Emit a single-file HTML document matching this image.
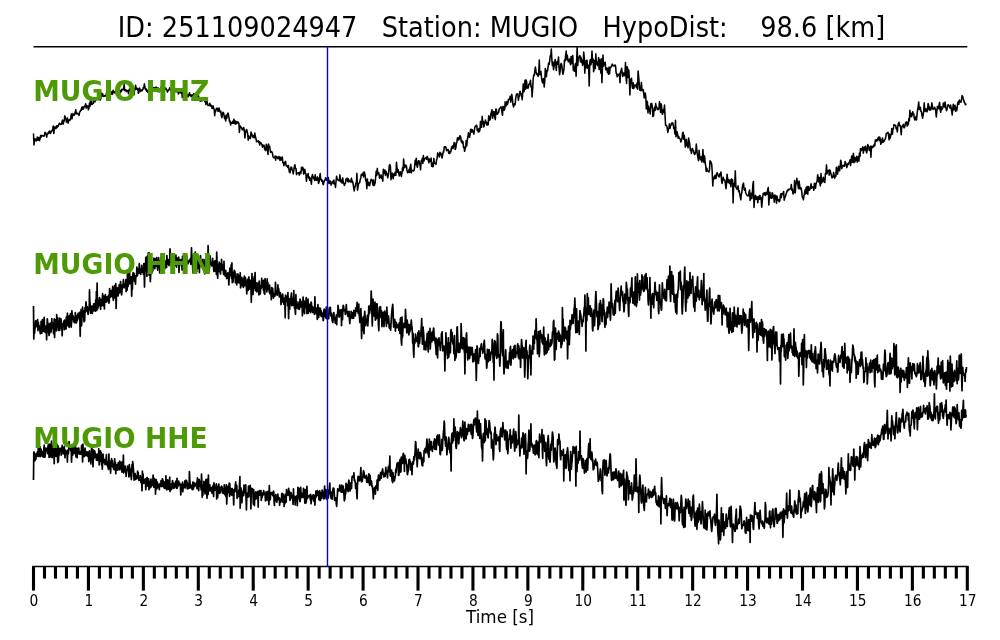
<!DOCTYPE html>
<html><head><meta charset="utf-8"><title>Seismogram</title>
<style>
html,body{margin:0;padding:0;background:#fff;}
body{width:1000px;height:640px;overflow:hidden;}
svg{display:block;will-change:transform;}
text{font-family:"DejaVu Sans","Liberation Sans",sans-serif;fill:#000;}
.lab{font-weight:bold;font-size:28.2px;fill:#4e9a06;}
.tr{fill:none;stroke:#000;stroke-width:1.55;stroke-linejoin:round;stroke-linecap:butt;}
</style></head><body>
<svg width="1000" height="640" viewBox="0 0 1000 640">
<rect width="1000" height="640" fill="#fff"/>
<text x="117.8" y="37.3" font-size="28" textLength="767.4" lengthAdjust="spacingAndGlyphs" xml:space="preserve" style="white-space:pre">ID: 251109024947   Station: MUGIO   HypoDist:    98.6 [km]</text>
<path class="tr" d="M33.5,133.5 L34.0,145.0 L34.6,138.9 L35.1,140.2 L35.7,139.1 L36.2,141.1 L36.8,138.7 L37.3,137.1 L37.9,140.3 L38.4,137.8 L39.0,137.6 L39.5,140.6 L40.1,138.8 L40.6,135.6 L41.2,137.0 L41.7,135.4 L42.3,135.6 L42.8,136.0 L43.4,135.8 L43.9,136.3 L44.5,135.2 L45.0,132.4 L45.6,132.8 L46.1,133.6 L46.7,137.1 L47.2,133.9 L47.8,133.9 L48.3,132.2 L48.9,133.2 L49.4,131.1 L50.0,131.5 L50.5,133.5 L51.1,131.4 L51.6,131.7 L52.2,130.1 L52.7,129.4 L53.3,126.0 L53.8,133.5 L54.4,129.5 L54.9,126.9 L55.5,127.9 L56.0,128.5 L56.6,125.8 L57.1,127.5 L57.7,125.9 L58.2,126.3 L58.8,124.4 L59.3,123.2 L59.9,123.9 L60.4,124.4 L61.0,124.0 L61.5,124.1 L62.1,121.3 L62.6,120.0 L63.2,124.1 L63.7,121.6 L64.3,120.6 L64.8,115.9 L65.4,117.2 L65.9,118.9 L66.4,122.1 L67.0,121.0 L67.5,118.1 L68.1,123.2 L68.6,120.7 L69.2,119.8 L69.7,120.5 L70.3,119.5 L70.8,117.5 L71.4,113.9 L71.9,118.8 L72.5,116.1 L73.0,113.6 L73.6,115.2 L74.1,115.4 L74.7,114.1 L75.2,112.6 L75.8,109.7 L76.3,113.8 L76.9,113.5 L77.4,113.3 L78.0,114.0 L78.5,114.0 L79.1,115.4 L79.6,112.1 L80.2,111.5 L80.7,110.0 L81.3,110.3 L81.8,107.3 L82.4,109.2 L82.9,106.7 L83.5,109.0 L84.0,107.3 L84.6,106.3 L85.1,105.7 L85.7,103.8 L86.2,108.2 L86.8,105.5 L87.3,106.9 L87.9,106.1 L88.4,109.8 L89.0,107.7 L89.5,103.1 L90.1,106.2 L90.6,97.7 L91.2,97.3 L91.7,104.5 L92.3,104.3 L92.8,103.2 L93.4,103.3 L93.9,98.9 L94.5,100.9 L95.0,101.9 L95.6,98.3 L96.1,98.6 L96.7,99.8 L97.2,98.7 L97.8,97.2 L98.3,98.7 L98.8,99.7 L99.4,99.3 L99.9,98.9 L100.5,100.0 L101.0,96.9 L101.6,93.1 L102.1,96.0 L102.7,93.9 L103.2,96.3 L103.8,96.5 L104.3,96.1 L104.9,95.6 L105.4,96.0 L106.0,95.9 L106.5,92.5 L107.1,92.6 L107.6,94.7 L108.2,93.1 L108.7,93.3 L109.3,92.5 L109.8,97.4 L110.4,92.4 L110.9,93.8 L111.5,91.7 L112.0,94.4 L112.6,94.1 L113.1,90.3 L113.7,92.1 L114.2,91.9 L114.8,93.0 L115.3,91.8 L115.9,93.0 L116.4,91.6 L117.0,90.3 L117.5,92.1 L118.1,93.1 L118.6,93.5 L119.2,93.2 L119.7,91.1 L120.3,92.6 L120.8,90.4 L121.4,91.5 L121.9,89.2 L122.5,89.4 L123.0,89.8 L123.6,88.7 L124.1,84.3 L124.7,90.6 L125.2,90.0 L125.8,89.7 L126.3,91.6 L126.9,90.5 L127.4,90.6 L128.0,91.3 L128.5,93.5 L129.1,89.7 L129.6,88.9 L130.1,89.9 L130.7,92.2 L131.2,90.1 L131.8,92.5 L132.3,89.1 L132.9,89.0 L133.4,90.2 L134.0,94.7 L134.5,90.9 L135.1,88.8 L135.6,85.2 L136.2,89.3 L136.7,88.1 L137.3,89.4 L137.8,88.5 L138.4,93.3 L138.9,92.3 L139.5,88.1 L140.0,89.2 L140.6,91.4 L141.1,90.9 L141.7,89.9 L142.2,90.6 L142.8,89.6 L143.3,87.5 L143.9,87.9 L144.4,83.8 L145.0,87.6 L145.5,89.5 L146.1,88.8 L146.6,91.2 L147.2,91.2 L147.7,92.3 L148.3,89.5 L148.8,93.9 L149.4,90.7 L149.9,88.2 L150.5,86.1 L151.0,87.7 L151.6,86.9 L152.1,85.9 L152.7,88.1 L153.2,88.4 L153.8,87.6 L154.3,88.8 L154.9,88.0 L155.4,87.5 L156.0,87.0 L156.5,87.6 L157.1,88.7 L157.6,91.6 L158.2,87.9 L158.7,90.9 L159.3,91.8 L159.8,90.9 L160.4,90.0 L160.9,88.8 L161.5,86.3 L162.0,91.5 L162.5,91.6 L163.1,89.6 L163.6,87.6 L164.2,87.8 L164.7,88.0 L165.3,89.1 L165.8,88.1 L166.4,89.7 L166.9,89.9 L167.5,92.1 L168.0,90.6 L168.6,90.3 L169.1,89.3 L169.7,87.7 L170.2,88.9 L170.8,90.3 L171.3,90.6 L171.9,88.0 L172.4,91.5 L173.0,90.6 L173.5,92.4 L174.1,92.7 L174.6,89.5 L175.2,91.7 L175.7,91.0 L176.3,91.8 L176.8,89.9 L177.4,90.0 L177.9,92.0 L178.5,94.0 L179.0,92.4 L179.6,91.0 L180.1,90.8 L180.7,92.7 L181.2,93.2 L181.8,91.5 L182.3,97.6 L182.9,93.8 L183.4,90.0 L184.0,92.2 L184.5,92.5 L185.1,94.4 L185.6,93.0 L186.2,93.0 L186.7,94.3 L187.3,94.8 L187.8,96.7 L188.4,96.6 L188.9,94.6 L189.5,92.8 L190.0,95.3 L190.6,94.7 L191.1,96.5 L191.7,96.5 L192.2,94.8 L192.8,97.4 L193.3,99.2 L193.9,93.6 L194.4,94.3 L194.9,94.2 L195.5,94.1 L196.0,97.6 L196.6,98.2 L197.1,93.3 L197.7,99.6 L198.2,94.9 L198.8,97.1 L199.3,100.5 L199.9,99.5 L200.4,101.2 L201.0,100.2 L201.5,99.2 L202.1,101.0 L202.6,98.9 L203.2,99.3 L203.7,99.0 L204.3,98.4 L204.8,101.8 L205.4,100.3 L205.9,104.6 L206.5,102.4 L207.0,101.5 L207.6,104.2 L208.1,105.6 L208.7,105.3 L209.2,104.6 L209.8,103.3 L210.3,106.1 L210.9,105.2 L211.4,105.2 L212.0,108.3 L212.5,108.4 L213.1,105.9 L213.6,108.1 L214.2,109.5 L214.7,115.7 L215.3,110.6 L215.8,111.0 L216.4,108.5 L216.9,108.7 L217.5,108.2 L218.0,111.5 L218.6,111.0 L219.1,108.1 L219.7,111.1 L220.2,112.2 L220.8,111.1 L221.3,115.2 L221.9,117.6 L222.4,114.3 L223.0,112.3 L223.5,112.7 L224.1,115.6 L224.6,118.6 L225.2,116.4 L225.7,120.9 L226.3,115.0 L226.8,118.2 L227.3,115.1 L227.9,113.0 L228.4,114.6 L229.0,117.9 L229.5,121.6 L230.1,121.1 L230.6,125.0 L231.2,122.7 L231.7,122.6 L232.3,123.2 L232.8,121.2 L233.4,123.2 L233.9,119.2 L234.5,123.5 L235.0,120.7 L235.6,124.0 L236.1,121.6 L236.7,123.5 L237.2,122.7 L237.8,121.7 L238.3,123.0 L238.9,123.3 L239.4,132.4 L240.0,125.7 L240.5,126.5 L241.1,127.8 L241.6,127.4 L242.2,129.7 L242.7,129.0 L243.3,129.9 L243.8,127.6 L244.4,131.3 L244.9,137.9 L245.5,132.7 L246.0,131.0 L246.6,129.5 L247.1,131.2 L247.7,133.9 L248.2,140.1 L248.8,135.9 L249.3,138.2 L249.9,137.6 L250.4,138.5 L251.0,132.1 L251.5,133.7 L252.1,134.8 L252.6,137.0 L253.2,135.6 L253.7,137.5 L254.3,137.7 L254.8,133.1 L255.4,136.8 L255.9,138.2 L256.5,141.7 L257.0,141.5 L257.6,141.4 L258.1,140.7 L258.7,142.5 L259.2,141.4 L259.7,145.0 L260.3,142.4 L260.8,142.9 L261.4,143.5 L261.9,144.5 L262.5,147.2 L263.0,145.0 L263.6,146.0 L264.1,145.4 L264.7,149.7 L265.2,148.0 L265.8,150.6 L266.3,144.3 L266.9,146.2 L267.4,148.4 L268.0,154.5 L268.5,144.0 L269.1,147.5 L269.6,146.2 L270.2,150.2 L270.7,152.3 L271.3,151.6 L271.8,151.7 L272.4,153.1 L272.9,156.2 L273.5,157.6 L274.0,157.5 L274.6,158.0 L275.1,156.1 L275.7,160.2 L276.2,156.3 L276.8,157.5 L277.3,157.1 L277.9,158.6 L278.4,158.6 L279.0,156.4 L279.5,158.5 L280.1,160.4 L280.6,157.3 L281.2,159.1 L281.7,160.0 L282.3,157.0 L282.8,162.8 L283.4,162.2 L283.9,165.7 L284.5,162.2 L285.0,163.8 L285.6,161.4 L286.1,165.7 L286.7,166.1 L287.2,165.7 L287.8,167.4 L288.3,165.5 L288.9,168.9 L289.4,172.2 L290.0,172.8 L290.5,169.3 L291.0,167.1 L291.6,167.5 L292.1,170.0 L292.7,170.6 L293.2,174.0 L293.8,170.1 L294.3,166.9 L294.9,164.7 L295.4,168.4 L296.0,168.4 L296.5,174.6 L297.1,173.4 L297.6,173.1 L298.2,172.9 L298.7,172.5 L299.3,175.1 L299.8,172.8 L300.4,171.7 L300.9,173.5 L301.5,167.3 L302.0,169.8 L302.6,167.3 L303.1,168.2 L303.7,174.1 L304.2,172.5 L304.8,169.3 L305.3,173.2 L305.9,173.6 L306.4,181.3 L307.0,176.0 L307.5,175.1 L308.1,173.5 L308.6,178.0 L309.2,177.0 L309.7,180.3 L310.3,178.1 L310.8,180.5 L311.4,184.2 L311.9,176.7 L312.5,174.6 L313.0,177.5 L313.6,178.8 L314.1,177.1 L314.7,180.4 L315.2,174.8 L315.8,179.7 L316.3,180.3 L316.9,179.9 L317.4,176.9 L318.0,178.6 L318.5,183.5 L319.1,182.0 L319.6,177.1 L320.2,173.6 L320.7,179.6 L321.3,179.4 L321.8,181.2 L322.4,180.3 L322.9,184.1 L323.4,184.7 L324.0,181.6 L324.5,180.4 L325.1,180.2 L325.6,177.9 L326.2,178.2 L326.7,180.1 L327.3,178.6 L327.8,180.0 L328.4,177.6 L328.9,183.5 L329.5,183.1 L330.0,181.1 L330.6,181.1 L331.1,185.1 L331.7,183.2 L332.2,182.6 L332.8,181.3 L333.3,183.4 L333.9,180.0 L334.4,184.1 L335.0,184.2 L335.5,187.5 L336.1,180.8 L336.6,176.2 L337.2,179.5 L337.7,179.4 L338.3,180.5 L338.8,180.2 L339.4,180.9 L339.9,174.9 L340.5,181.0 L341.0,182.0 L341.6,179.9 L342.1,183.1 L342.7,177.9 L343.2,181.9 L343.8,183.4 L344.3,185.4 L344.9,183.8 L345.4,183.5 L346.0,179.1 L346.5,179.2 L347.1,178.1 L347.6,181.4 L348.2,178.8 L348.7,182.0 L349.3,180.3 L349.8,181.1 L350.4,181.9 L350.9,180.5 L351.5,178.3 L352.0,182.4 L352.6,181.3 L353.1,183.6 L353.7,187.9 L354.2,191.0 L354.8,187.2 L355.3,186.5 L355.8,183.2 L356.4,182.7 L356.9,173.4 L357.5,190.1 L358.0,187.1 L358.6,183.6 L359.1,183.2 L359.7,182.6 L360.2,179.7 L360.8,177.9 L361.3,174.3 L361.9,174.9 L362.4,175.3 L363.0,173.0 L363.5,177.0 L364.1,171.8 L364.6,172.9 L365.2,175.8 L365.7,180.8 L366.3,179.5 L366.8,188.6 L367.4,179.0 L367.9,185.5 L368.5,182.4 L369.0,182.8 L369.6,185.7 L370.1,183.3 L370.7,180.9 L371.2,179.2 L371.8,180.4 L372.3,180.1 L372.9,185.0 L373.4,180.0 L374.0,185.6 L374.5,184.8 L375.1,182.9 L375.6,177.7 L376.2,171.2 L376.7,175.5 L377.3,168.4 L377.8,174.0 L378.4,173.2 L378.9,172.9 L379.5,178.2 L380.0,176.2 L380.6,177.2 L381.1,174.9 L381.7,178.4 L382.2,177.7 L382.8,181.1 L383.3,169.2 L383.9,172.5 L384.4,173.4 L385.0,170.0 L385.5,175.5 L386.1,171.5 L386.6,173.8 L387.2,173.7 L387.7,177.7 L388.2,175.7 L388.8,171.1 L389.3,165.5 L389.9,164.6 L390.4,166.6 L391.0,179.6 L391.5,175.5 L392.1,173.1 L392.6,176.0 L393.2,178.7 L393.7,174.3 L394.3,173.3 L394.8,175.4 L395.4,172.0 L395.9,175.3 L396.5,162.2 L397.0,168.2 L397.6,172.3 L398.1,169.5 L398.7,172.6 L399.2,176.0 L399.8,174.2 L400.3,171.8 L400.9,174.1 L401.4,176.4 L402.0,172.6 L402.5,167.9 L403.1,170.6 L403.6,159.0 L404.2,166.0 L404.7,167.8 L405.3,165.0 L405.8,165.1 L406.4,165.9 L406.9,169.7 L407.5,172.7 L408.0,172.5 L408.6,172.0 L409.1,169.3 L409.7,172.5 L410.2,166.9 L410.8,164.2 L411.3,172.7 L411.9,170.3 L412.4,170.6 L413.0,170.5 L413.5,170.9 L414.1,170.3 L414.6,166.6 L415.2,160.4 L415.7,164.6 L416.3,158.2 L416.8,165.0 L417.4,167.2 L417.9,163.9 L418.5,160.7 L419.0,160.8 L419.6,163.9 L420.1,165.4 L420.6,169.8 L421.2,160.8 L421.7,161.4 L422.3,158.4 L422.8,163.4 L423.4,155.6 L423.9,161.0 L424.5,159.1 L425.0,158.6 L425.6,158.2 L426.1,157.6 L426.7,159.2 L427.2,156.4 L427.8,157.7 L428.3,160.6 L428.9,162.8 L429.4,159.1 L430.0,161.4 L430.5,161.2 L431.1,158.1 L431.6,166.2 L432.2,163.1 L432.7,166.7 L433.3,166.5 L433.8,158.4 L434.4,163.1 L434.9,163.2 L435.5,163.3 L436.0,164.4 L436.6,159.7 L437.1,158.2 L437.7,152.9 L438.2,154.9 L438.8,154.2 L439.3,157.0 L439.9,152.3 L440.4,154.0 L441.0,153.3 L441.5,156.3 L442.1,157.9 L442.6,155.2 L443.2,151.8 L443.7,152.0 L444.3,146.7 L444.8,147.1 L445.4,146.7 L445.9,147.1 L446.5,150.7 L447.0,149.8 L447.6,149.8 L448.1,149.4 L448.7,153.2 L449.2,151.1 L449.8,153.6 L450.3,151.6 L450.9,151.8 L451.4,147.8 L451.9,146.7 L452.5,146.0 L453.0,148.6 L453.6,145.4 L454.1,142.6 L454.7,142.7 L455.2,149.4 L455.8,147.9 L456.3,144.0 L456.9,141.7 L457.4,138.0 L458.0,137.8 L458.5,139.9 L459.1,139.5 L459.6,136.1 L460.2,135.8 L460.7,137.0 L461.3,142.0 L461.8,140.6 L462.4,143.3 L462.9,141.4 L463.5,147.4 L464.0,146.6 L464.6,151.3 L465.1,148.5 L465.7,147.3 L466.2,140.5 L466.8,145.8 L467.3,139.8 L467.9,137.0 L468.4,132.8 L469.0,135.5 L469.5,137.3 L470.1,134.9 L470.6,129.4 L471.2,129.2 L471.7,132.1 L472.3,129.8 L472.8,131.1 L473.4,132.5 L473.9,134.1 L474.5,129.1 L475.0,126.9 L475.6,126.0 L476.1,125.7 L476.7,125.2 L477.2,130.3 L477.8,129.6 L478.3,132.0 L478.9,128.5 L479.4,131.6 L480.0,129.5 L480.5,121.4 L481.1,126.1 L481.6,127.3 L482.2,116.4 L482.7,123.6 L483.3,121.5 L483.8,126.9 L484.3,125.0 L484.9,122.5 L485.4,120.1 L486.0,121.6 L486.5,123.7 L487.1,125.1 L487.6,122.6 L488.2,124.6 L488.7,115.8 L489.3,117.5 L489.8,120.1 L490.4,118.7 L490.9,113.9 L491.5,111.7 L492.0,109.8 L492.6,118.3 L493.1,115.1 L493.7,111.5 L494.2,111.7 L494.8,117.2 L495.3,119.6 L495.9,109.0 L496.4,109.3 L497.0,114.2 L497.5,114.1 L498.1,112.9 L498.6,112.5 L499.2,109.0 L499.7,108.6 L500.3,107.7 L500.8,107.0 L501.4,107.1 L501.9,112.1 L502.5,115.2 L503.0,106.4 L503.6,107.5 L504.1,110.2 L504.7,109.3 L505.2,101.9 L505.8,106.5 L506.3,105.1 L506.9,101.5 L507.4,104.6 L508.0,102.6 L508.5,99.2 L509.1,99.4 L509.6,99.5 L510.2,96.2 L510.7,102.1 L511.3,98.1 L511.8,94.4 L512.4,98.9 L512.9,104.3 L513.5,106.9 L514.0,105.3 L514.6,103.5 L515.1,104.7 L515.7,98.4 L516.2,95.2 L516.7,94.1 L517.3,93.8 L517.8,93.9 L518.4,100.2 L518.9,96.9 L519.5,96.0 L520.0,91.2 L520.6,93.7 L521.1,93.5 L521.7,96.5 L522.2,99.7 L522.8,91.9 L523.3,83.9 L523.9,91.7 L524.4,89.6 L525.0,80.2 L525.5,89.2 L526.1,79.9 L526.6,81.6 L527.2,88.2 L527.7,88.1 L528.3,87.9 L528.8,84.2 L529.4,84.4 L529.9,83.6 L530.5,80.2 L531.0,86.9 L531.6,86.1 L532.1,97.0 L532.7,87.9 L533.2,78.7 L533.8,74.9 L534.3,75.3 L534.9,70.1 L535.4,67.0 L536.0,71.2 L536.5,74.2 L537.1,73.6 L537.6,75.4 L538.2,76.3 L538.7,73.7 L539.3,60.0 L539.8,74.5 L540.4,72.2 L540.9,71.5 L541.5,77.2 L542.0,80.7 L542.6,82.9 L543.1,79.2 L543.7,78.6 L544.2,87.0 L544.8,80.5 L545.3,68.5 L545.9,74.1 L546.4,76.8 L547.0,70.3 L547.5,71.1 L548.1,66.8 L548.6,63.1 L549.1,64.5 L549.7,61.0 L550.2,55.7 L550.8,56.1 L551.3,49.0 L551.9,60.1 L552.4,65.6 L553.0,62.1 L553.5,69.8 L554.1,66.4 L554.6,62.8 L555.2,59.5 L555.7,63.5 L556.3,70.4 L556.8,63.2 L557.4,61.4 L557.9,64.1 L558.5,57.0 L559.0,67.2 L559.6,74.7 L560.1,71.6 L560.7,64.7 L561.2,63.4 L561.8,65.3 L562.3,69.6 L562.9,74.3 L563.4,72.0 L564.0,68.8 L564.5,60.1 L565.1,61.0 L565.6,55.5 L566.2,51.0 L566.7,59.8 L567.3,55.3 L567.8,60.0 L568.4,61.7 L568.9,60.8 L569.5,59.0 L570.0,62.4 L570.6,64.7 L571.1,56.5 L571.7,63.5 L572.2,59.3 L572.8,55.6 L573.3,70.1 L573.9,67.7 L574.4,71.3 L575.0,65.4 L575.5,63.6 L576.1,76.3 L576.6,62.0 L577.2,47.2 L577.7,65.6 L578.3,58.2 L578.8,57.4 L579.4,56.9 L579.9,55.6 L580.4,61.8 L581.0,57.2 L581.5,62.4 L582.1,60.2 L582.6,65.3 L583.2,63.3 L583.7,52.0 L584.3,57.8 L584.8,73.1 L585.4,61.0 L585.9,68.3 L586.5,60.4 L587.0,60.2 L587.6,68.2 L588.1,64.9 L588.7,67.7 L589.2,86.0 L589.8,62.0 L590.3,59.7 L590.9,64.8 L591.4,61.6 L592.0,51.0 L592.5,62.1 L593.1,58.9 L593.6,71.7 L594.2,68.8 L594.7,60.5 L595.3,68.4 L595.8,53.8 L596.4,63.9 L596.9,61.9 L597.5,65.6 L598.0,65.2 L598.6,57.6 L599.1,69.5 L599.7,59.5 L600.2,64.9 L600.8,73.0 L601.3,58.7 L601.9,82.6 L602.4,69.2 L603.0,55.0 L603.5,66.1 L604.1,62.5 L604.6,64.2 L605.2,62.3 L605.7,69.8 L606.3,68.8 L606.8,67.8 L607.4,72.5 L607.9,68.9 L608.5,74.3 L609.0,67.0 L609.6,73.8 L610.1,67.8 L610.7,67.7 L611.2,66.3 L611.8,65.3 L612.3,64.1 L612.8,65.7 L613.4,65.5 L613.9,66.0 L614.5,65.9 L615.0,64.9 L615.6,66.3 L616.1,72.9 L616.7,73.6 L617.2,76.8 L617.8,74.9 L618.3,75.5 L618.9,74.8 L619.4,73.6 L620.0,82.7 L620.5,72.2 L621.1,70.1 L621.6,68.2 L622.2,72.9 L622.7,76.4 L623.3,75.1 L623.8,72.9 L624.4,73.8 L624.9,75.7 L625.5,62.5 L626.0,77.1 L626.6,83.4 L627.1,66.7 L627.7,68.8 L628.2,77.4 L628.8,70.0 L629.3,78.0 L629.9,95.0 L630.4,79.9 L631.0,79.4 L631.5,78.2 L632.1,86.1 L632.6,88.3 L633.2,82.8 L633.7,88.4 L634.3,86.6 L634.8,85.0 L635.4,85.0 L635.9,85.9 L636.5,87.6 L637.0,83.0 L637.6,89.2 L638.1,71.0 L638.7,77.2 L639.2,83.2 L639.8,90.1 L640.3,87.0 L640.9,90.6 L641.4,82.4 L642.0,90.5 L642.5,90.2 L643.1,89.5 L643.6,92.2 L644.2,97.9 L644.7,95.8 L645.2,93.0 L645.8,96.7 L646.3,109.0 L646.9,101.2 L647.4,102.0 L648.0,113.0 L648.5,106.3 L649.1,109.4 L649.6,109.4 L650.2,114.0 L650.7,103.9 L651.3,107.0 L651.8,103.4 L652.4,107.5 L652.9,116.5 L653.5,116.0 L654.0,110.4 L654.6,107.3 L655.1,110.4 L655.7,103.5 L656.2,107.0 L656.8,107.1 L657.3,109.5 L657.9,109.6 L658.4,109.4 L659.0,107.4 L659.5,101.7 L660.1,107.6 L660.6,112.4 L661.2,103.9 L661.7,107.6 L662.3,114.2 L662.8,113.7 L663.4,109.6 L663.9,112.2 L664.5,105.1 L665.0,114.6 L665.6,125.5 L666.1,125.0 L666.7,125.9 L667.2,127.9 L667.8,132.4 L668.3,129.5 L668.9,128.3 L669.4,123.9 L670.0,128.4 L670.5,126.1 L671.1,125.0 L671.6,123.1 L672.2,123.9 L672.7,122.7 L673.3,125.2 L673.8,128.6 L674.4,128.7 L674.9,133.9 L675.5,120.3 L676.0,136.8 L676.6,133.2 L677.1,131.8 L677.6,134.3 L678.2,138.3 L678.7,136.6 L679.3,138.2 L679.8,138.5 L680.4,139.8 L680.9,142.0 L681.5,139.9 L682.0,138.5 L682.6,133.0 L683.1,132.3 L683.7,139.2 L684.2,135.2 L684.8,140.0 L685.3,147.1 L685.9,143.6 L686.4,139.4 L687.0,145.7 L687.5,145.2 L688.1,147.8 L688.6,138.1 L689.2,141.6 L689.7,143.4 L690.3,150.1 L690.8,149.0 L691.4,153.4 L691.9,151.2 L692.5,148.6 L693.0,150.3 L693.6,150.9 L694.1,153.5 L694.7,154.5 L695.2,153.4 L695.8,151.8 L696.3,144.0 L696.9,150.5 L697.4,154.7 L698.0,158.4 L698.5,160.7 L699.1,150.2 L699.6,156.4 L700.2,158.8 L700.7,159.8 L701.3,156.6 L701.8,162.0 L702.4,158.7 L702.9,149.5 L703.5,159.7 L704.0,162.5 L704.6,155.9 L705.1,162.5 L705.7,165.7 L706.2,171.5 L706.8,168.2 L707.3,170.0 L707.9,171.1 L708.4,171.5 L709.0,172.0 L709.5,169.7 L710.0,160.7 L710.6,161.4 L711.1,162.6 L711.7,164.2 L712.2,171.8 L712.8,185.9 L713.3,177.2 L713.9,179.1 L714.4,177.9 L715.0,175.3 L715.5,178.5 L716.1,178.2 L716.6,173.6 L717.2,172.7 L717.7,174.1 L718.3,175.8 L718.8,176.7 L719.4,176.8 L719.9,173.7 L720.5,174.8 L721.0,172.0 L721.6,180.7 L722.1,183.4 L722.7,180.7 L723.2,177.3 L723.8,179.8 L724.3,179.8 L724.9,180.2 L725.4,183.8 L726.0,188.7 L726.5,183.3 L727.1,174.3 L727.6,179.4 L728.2,182.5 L728.7,179.6 L729.3,183.1 L729.8,183.7 L730.4,180.0 L730.9,186.8 L731.5,178.9 L732.0,183.6 L732.6,179.8 L733.1,203.0 L733.7,183.5 L734.2,186.3 L734.8,183.0 L735.3,170.9 L735.9,187.6 L736.4,187.3 L737.0,189.2 L737.5,189.2 L738.1,185.9 L738.6,191.6 L739.2,190.7 L739.7,193.6 L740.3,197.0 L740.8,199.8 L741.3,194.8 L741.9,192.1 L742.4,186.8 L743.0,184.2 L743.5,183.1 L744.1,189.3 L744.6,190.3 L745.2,188.2 L745.7,193.0 L746.3,194.2 L746.8,195.0 L747.4,195.6 L747.9,195.5 L748.5,195.9 L749.0,192.1 L749.6,190.0 L750.1,200.4 L750.7,196.3 L751.2,193.2 L751.8,198.6 L752.3,194.9 L752.9,184.5 L753.4,181.5 L754.0,207.5 L754.5,200.2 L755.1,196.1 L755.6,195.4 L756.2,199.3 L756.7,198.4 L757.3,196.9 L757.8,202.6 L758.4,197.7 L758.9,196.2 L759.5,199.3 L760.0,195.4 L760.6,199.0 L761.1,197.6 L761.7,207.2 L762.2,201.8 L762.8,196.0 L763.3,193.4 L763.9,194.2 L764.4,192.8 L765.0,194.9 L765.5,195.5 L766.1,192.4 L766.6,194.1 L767.2,194.2 L767.7,189.3 L768.3,187.6 L768.8,205.0 L769.4,196.8 L769.9,192.2 L770.5,197.6 L771.0,198.1 L771.6,198.3 L772.1,192.8 L772.7,193.4 L773.2,197.6 L773.7,195.8 L774.3,202.2 L774.8,195.0 L775.4,195.5 L775.9,197.0 L776.5,203.3 L777.0,196.0 L777.6,199.5 L778.1,200.4 L778.7,199.8 L779.2,201.8 L779.8,200.6 L780.3,196.1 L780.9,193.8 L781.4,197.5 L782.0,193.6 L782.5,194.0 L783.1,193.5 L783.6,191.5 L784.2,200.2 L784.7,198.0 L785.3,196.7 L785.8,195.1 L786.4,192.9 L786.9,192.0 L787.5,190.0 L788.0,190.6 L788.6,189.2 L789.1,189.7 L789.7,189.0 L790.2,189.0 L790.8,188.1 L791.3,184.5 L791.9,190.3 L792.4,189.3 L793.0,194.0 L793.5,191.4 L794.1,192.1 L794.6,180.5 L795.2,193.0 L795.7,185.6 L796.3,182.6 L796.8,178.3 L797.4,182.3 L797.9,184.3 L798.5,188.6 L799.0,181.1 L799.6,185.2 L800.1,188.9 L800.7,187.7 L801.2,188.4 L801.8,191.9 L802.3,197.3 L802.9,197.3 L803.4,199.8 L804.0,195.5 L804.5,193.5 L805.1,189.9 L805.6,193.9 L806.1,187.5 L806.7,193.3 L807.2,186.5 L807.8,194.3 L808.3,186.6 L808.9,188.5 L809.4,190.2 L810.0,189.1 L810.5,186.7 L811.1,183.8 L811.6,188.3 L812.2,186.9 L812.7,187.1 L813.3,187.1 L813.8,190.3 L814.4,183.3 L814.9,183.6 L815.5,188.2 L816.0,184.0 L816.6,182.2 L817.1,181.4 L817.7,174.8 L818.2,177.9 L818.8,182.0 L819.3,177.5 L819.9,183.7 L820.4,185.7 L821.0,173.5 L821.5,183.0 L822.1,179.9 L822.6,181.7 L823.2,177.3 L823.7,178.7 L824.3,182.0 L824.8,182.5 L825.4,173.6 L825.9,174.3 L826.5,164.9 L827.0,173.7 L827.6,170.6 L828.1,170.8 L828.7,170.2 L829.2,175.1 L829.8,169.9 L830.3,171.0 L830.9,173.8 L831.4,175.2 L832.0,177.9 L832.5,177.6 L833.1,176.8 L833.6,172.6 L834.2,175.3 L834.7,178.1 L835.3,175.7 L835.8,176.4 L836.4,167.2 L836.9,170.2 L837.5,174.1 L838.0,170.6 L838.5,166.2 L839.1,167.8 L839.6,170.8 L840.2,166.2 L840.7,160.2 L841.3,163.2 L841.8,168.6 L842.4,165.6 L842.9,165.8 L843.5,165.3 L844.0,166.4 L844.6,166.1 L845.1,161.5 L845.7,163.0 L846.2,164.4 L846.8,167.6 L847.3,165.3 L847.9,163.5 L848.4,164.6 L849.0,162.7 L849.5,161.8 L850.1,159.8 L850.6,165.5 L851.2,160.6 L851.7,156.1 L852.3,162.2 L852.8,158.0 L853.4,153.4 L853.9,162.7 L854.5,157.3 L855.0,161.8 L855.6,158.0 L856.1,160.2 L856.7,156.3 L857.2,162.2 L857.8,157.9 L858.3,156.5 L858.9,161.1 L859.4,153.2 L860.0,156.5 L860.5,148.6 L861.1,150.8 L861.6,148.8 L862.2,149.6 L862.7,146.8 L863.3,153.1 L863.8,149.8 L864.4,147.2 L864.9,150.0 L865.5,146.2 L866.0,150.3 L866.6,152.9 L867.1,150.8 L867.7,144.6 L868.2,145.7 L868.8,147.4 L869.3,150.5 L869.9,148.2 L870.4,146.2 L870.9,157.3 L871.5,146.3 L872.0,147.2 L872.6,147.6 L873.1,146.1 L873.7,146.7 L874.2,144.3 L874.8,145.6 L875.3,140.0 L875.9,141.2 L876.4,139.8 L877.0,141.0 L877.5,139.4 L878.1,137.9 L878.6,137.1 L879.2,140.5 L879.7,137.0 L880.3,139.5 L880.8,144.3 L881.4,143.0 L881.9,140.0 L882.5,138.0 L883.0,142.4 L883.6,140.9 L884.1,141.3 L884.7,139.7 L885.2,139.2 L885.8,136.7 L886.3,133.6 L886.9,132.9 L887.4,132.9 L888.0,132.3 L888.5,134.9 L889.1,139.8 L889.6,134.0 L890.2,138.1 L890.7,135.4 L891.3,134.4 L891.8,128.5 L892.4,134.1 L892.9,129.3 L893.5,128.2 L894.0,124.6 L894.6,124.9 L895.1,125.1 L895.7,125.5 L896.2,129.0 L896.8,127.9 L897.3,132.0 L897.9,125.8 L898.4,123.4 L899.0,122.4 L899.5,125.6 L900.1,125.4 L900.6,126.8 L901.2,134.8 L901.7,127.8 L902.2,126.1 L902.8,126.0 L903.3,124.3 L903.9,127.6 L904.4,127.7 L905.0,125.8 L905.5,123.0 L906.1,122.1 L906.6,121.8 L907.2,126.1 L907.7,122.5 L908.3,124.7 L908.8,118.6 L909.4,120.8 L909.9,110.3 L910.5,116.5 L911.0,113.3 L911.6,116.7 L912.1,115.1 L912.7,111.8 L913.2,113.4 L913.8,114.1 L914.3,118.4 L914.9,120.0 L915.4,119.5 L916.0,116.5 L916.5,120.0 L917.1,113.9 L917.6,109.8 L918.2,107.0 L918.7,102.1 L919.3,109.4 L919.8,109.4 L920.4,107.2 L920.9,111.5 L921.5,111.7 L922.0,115.4 L922.6,118.2 L923.1,115.5 L923.7,111.4 L924.2,102.8 L924.8,110.3 L925.3,111.4 L925.9,108.8 L926.4,109.4 L927.0,111.8 L927.5,109.5 L928.1,103.6 L928.6,105.1 L929.2,110.0 L929.7,107.1 L930.3,110.1 L930.8,109.8 L931.4,107.4 L931.9,102.9 L932.5,107.0 L933.0,109.4 L933.6,108.9 L934.1,108.8 L934.6,107.2 L935.2,108.8 L935.7,110.9 L936.3,116.9 L936.8,111.6 L937.4,106.4 L937.9,108.5 L938.5,108.6 L939.0,105.2 L939.6,102.4 L940.1,109.7 L940.7,112.3 L941.2,106.8 L941.8,109.8 L942.3,108.7 L942.9,107.5 L943.4,103.0 L944.0,103.5 L944.5,107.0 L945.1,102.1 L945.6,107.2 L946.2,109.4 L946.7,110.6 L947.3,107.4 L947.8,104.9 L948.4,104.7 L948.9,106.0 L949.5,106.3 L950.0,107.9 L950.6,105.1 L951.1,107.6 L951.7,111.2 L952.2,115.0 L952.8,108.3 L953.3,104.2 L953.9,109.6 L954.4,106.8 L955.0,105.3 L955.5,111.2 L956.1,107.6 L956.6,110.8 L957.2,107.5 L957.7,103.2 L958.3,101.5 L958.8,104.3 L959.4,100.0 L959.9,102.2 L960.5,101.7 L961.0,102.2 L961.6,99.1 L962.1,95.6 L962.7,96.4 L963.2,98.7 L963.8,100.3 L964.3,102.2 L964.9,103.0 L965.4,104.7 L966.0,104.2 L966.5,104.0"/>
<path class="tr" style="stroke-width:1.7" d="M33.5,306.0 L33.8,339.0 L34.2,327.4 L34.5,333.3 L34.9,329.2 L35.2,327.7 L35.6,321.0 L35.9,320.8 L36.3,326.7 L36.6,325.2 L37.0,323.0 L37.3,324.0 L37.6,319.6 L38.0,330.6 L38.3,322.3 L38.7,325.3 L39.0,325.5 L39.4,327.8 L39.7,327.3 L40.1,332.4 L40.4,333.7 L40.8,332.4 L41.1,321.4 L41.5,330.9 L41.8,333.2 L42.1,329.3 L42.5,319.7 L42.8,330.5 L43.2,331.3 L43.5,328.0 L43.9,325.3 L44.2,317.4 L44.6,331.7 L44.9,331.2 L45.3,332.5 L45.6,326.0 L45.9,329.5 L46.3,327.5 L46.6,339.8 L47.0,328.2 L47.3,318.8 L47.7,322.8 L48.0,329.1 L48.4,328.4 L48.7,332.9 L49.1,335.5 L49.4,323.8 L49.7,333.5 L50.1,325.0 L50.4,323.2 L50.8,329.7 L51.1,332.0 L51.5,327.9 L51.8,318.5 L52.2,327.9 L52.5,325.9 L52.9,327.4 L53.2,323.0 L53.5,333.6 L53.9,332.2 L54.2,318.9 L54.6,337.6 L54.9,321.7 L55.3,319.9 L55.6,323.5 L56.0,324.9 L56.3,331.0 L56.7,314.7 L57.0,324.7 L57.4,317.6 L57.7,326.5 L58.0,325.4 L58.4,330.4 L58.7,325.6 L59.1,323.5 L59.4,318.1 L59.8,330.4 L60.1,319.0 L60.5,327.8 L60.8,318.6 L61.2,320.6 L61.5,328.1 L61.8,326.6 L62.2,335.8 L62.5,325.1 L62.9,323.8 L63.2,323.3 L63.6,324.0 L63.9,320.9 L64.3,329.7 L64.6,320.2 L65.0,322.8 L65.3,323.3 L65.6,320.2 L66.0,329.2 L66.3,317.1 L66.7,325.9 L67.0,325.2 L67.4,313.2 L67.7,320.1 L68.1,322.9 L68.4,326.1 L68.8,316.3 L69.1,327.3 L69.5,323.6 L69.8,315.3 L70.1,322.5 L70.5,313.5 L70.8,322.2 L71.2,327.1 L71.5,322.3 L71.9,310.9 L72.2,315.6 L72.6,319.2 L72.9,315.4 L73.3,318.1 L73.6,322.0 L73.9,321.5 L74.3,317.8 L74.6,318.9 L75.0,323.0 L75.3,312.5 L75.7,320.0 L76.0,315.9 L76.4,322.9 L76.7,321.4 L77.1,320.7 L77.4,315.2 L77.7,319.6 L78.1,313.3 L78.4,317.7 L78.8,317.0 L79.1,315.0 L79.5,312.3 L79.8,317.9 L80.2,336.3 L80.5,315.3 L80.9,311.7 L81.2,309.3 L81.6,325.8 L81.9,317.6 L82.2,315.0 L82.6,307.2 L82.9,315.4 L83.3,310.6 L83.6,314.7 L84.0,321.8 L84.3,311.3 L84.7,320.9 L85.0,307.5 L85.4,312.5 L85.7,307.0 L86.0,301.9 L86.4,306.4 L86.7,310.9 L87.1,308.4 L87.4,306.8 L87.8,312.4 L88.1,314.5 L88.5,309.2 L88.8,310.1 L89.2,308.8 L89.5,289.9 L89.8,301.4 L90.2,304.0 L90.5,313.3 L90.9,313.0 L91.2,310.2 L91.6,309.4 L91.9,306.0 L92.3,313.4 L92.6,307.5 L93.0,307.7 L93.3,310.9 L93.6,303.9 L94.0,303.7 L94.3,310.3 L94.7,308.2 L95.0,310.0 L95.4,311.2 L95.7,299.8 L96.1,306.6 L96.4,291.5 L96.8,310.5 L97.1,283.0 L97.5,304.5 L97.8,308.7 L98.1,305.1 L98.5,306.2 L98.8,302.8 L99.2,299.9 L99.5,297.6 L99.9,305.0 L100.2,303.5 L100.6,309.3 L100.9,299.4 L101.3,305.2 L101.6,305.9 L101.9,301.6 L102.3,299.8 L102.6,293.7 L103.0,302.3 L103.3,305.6 L103.7,296.1 L104.0,300.4 L104.4,309.0 L104.7,298.8 L105.1,296.3 L105.4,294.5 L105.7,301.3 L106.1,302.1 L106.4,297.5 L106.8,296.8 L107.1,298.8 L107.5,297.5 L107.8,299.9 L108.2,301.7 L108.5,295.4 L108.9,303.1 L109.2,301.6 L109.6,288.5 L109.9,294.0 L110.2,297.5 L110.6,294.2 L110.9,290.9 L111.3,291.2 L111.6,290.5 L112.0,296.7 L112.3,296.8 L112.7,286.3 L113.0,297.7 L113.4,300.3 L113.7,294.1 L114.0,287.7 L114.4,298.0 L114.7,285.6 L115.1,298.1 L115.4,291.4 L115.8,283.7 L116.1,308.4 L116.5,294.8 L116.8,291.1 L117.2,287.9 L117.5,295.7 L117.8,287.7 L118.2,295.9 L118.5,288.1 L118.9,288.3 L119.2,284.8 L119.6,293.0 L119.9,290.3 L120.3,285.4 L120.6,281.5 L121.0,288.9 L121.3,291.2 L121.6,294.9 L122.0,291.0 L122.3,285.1 L122.7,287.2 L123.0,285.4 L123.4,279.7 L123.7,283.6 L124.1,288.0 L124.4,285.3 L124.8,285.3 L125.1,284.3 L125.5,285.3 L125.8,279.7 L126.1,291.6 L126.5,281.4 L126.8,283.9 L127.2,290.1 L127.5,269.8 L127.9,274.2 L128.2,286.3 L128.6,276.7 L128.9,280.2 L129.3,272.8 L129.6,271.8 L129.9,284.0 L130.3,276.5 L130.6,279.5 L131.0,280.7 L131.3,276.9 L131.7,296.2 L132.0,281.8 L132.4,289.4 L132.7,275.3 L133.1,272.5 L133.4,278.1 L133.7,273.2 L134.1,273.5 L134.4,281.4 L134.8,275.6 L135.1,278.3 L135.5,284.2 L135.8,276.1 L136.2,276.0 L136.5,276.5 L136.9,267.1 L137.2,275.9 L137.6,275.0 L137.9,270.6 L138.2,271.7 L138.6,268.5 L138.9,273.1 L139.3,263.7 L139.6,271.7 L140.0,273.0 L140.3,271.5 L140.7,274.4 L141.0,271.0 L141.4,268.5 L141.7,265.4 L142.0,272.2 L142.4,269.4 L142.7,268.6 L143.1,267.7 L143.4,274.3 L143.8,263.5 L144.1,269.6 L144.5,287.1 L144.8,274.8 L145.2,263.0 L145.5,267.7 L145.8,257.4 L146.2,268.9 L146.5,266.8 L146.9,276.5 L147.2,256.4 L147.6,271.0 L147.9,260.6 L148.3,252.8 L148.6,263.6 L149.0,275.2 L149.3,252.9 L149.6,268.7 L150.0,270.2 L150.3,281.6 L150.7,274.9 L151.0,264.2 L151.4,268.1 L151.7,273.3 L152.1,272.3 L152.4,271.1 L152.8,271.0 L153.1,263.1 L153.5,263.8 L153.8,258.0 L154.1,261.7 L154.5,261.6 L154.8,268.6 L155.2,258.9 L155.5,264.6 L155.9,266.1 L156.2,262.1 L156.6,257.5 L156.9,263.5 L157.3,266.5 L157.6,270.3 L157.9,262.4 L158.3,263.5 L158.6,257.5 L159.0,264.6 L159.3,263.4 L159.7,272.9 L160.0,261.4 L160.4,263.6 L160.7,261.2 L161.1,256.3 L161.4,271.5 L161.7,258.2 L162.1,268.9 L162.4,266.8 L162.8,255.8 L163.1,256.2 L163.5,263.7 L163.8,258.8 L164.2,260.7 L164.5,260.3 L164.9,268.7 L165.2,262.8 L165.6,264.4 L165.9,261.0 L166.2,261.8 L166.6,267.5 L166.9,255.6 L167.3,262.4 L167.6,261.3 L168.0,263.9 L168.3,260.6 L168.7,259.7 L169.0,265.7 L169.4,261.4 L169.7,260.9 L170.0,248.8 L170.4,255.1 L170.7,257.3 L171.1,261.9 L171.4,265.6 L171.8,265.4 L172.1,263.6 L172.5,267.2 L172.8,264.6 L173.2,261.4 L173.5,265.8 L173.8,267.9 L174.2,260.9 L174.5,264.5 L174.9,259.8 L175.2,262.5 L175.6,265.7 L175.9,255.0 L176.3,263.9 L176.6,267.1 L177.0,258.2 L177.3,260.1 L177.7,261.4 L178.0,263.7 L178.3,259.1 L178.7,257.2 L179.0,272.5 L179.4,259.6 L179.7,264.4 L180.1,261.9 L180.4,261.5 L180.8,259.6 L181.1,260.2 L181.5,266.1 L181.8,264.0 L182.1,270.1 L182.5,256.3 L182.8,263.1 L183.2,260.4 L183.5,265.3 L183.9,271.6 L184.2,257.6 L184.6,263.4 L184.9,263.7 L185.3,264.3 L185.6,272.4 L185.9,261.6 L186.3,258.7 L186.6,255.6 L187.0,261.3 L187.3,261.4 L187.7,261.4 L188.0,263.8 L188.4,261.2 L188.7,260.9 L189.1,260.4 L189.4,261.7 L189.7,260.9 L190.1,261.5 L190.4,258.7 L190.8,264.3 L191.1,261.6 L191.5,247.8 L191.8,258.2 L192.2,254.8 L192.5,263.5 L192.9,272.8 L193.2,256.5 L193.6,260.4 L193.9,271.9 L194.2,265.5 L194.6,260.5 L194.9,254.7 L195.3,252.0 L195.6,266.4 L196.0,263.0 L196.3,257.3 L196.7,271.8 L197.0,264.4 L197.4,255.9 L197.7,262.9 L198.0,261.7 L198.4,268.5 L198.7,265.2 L199.1,264.6 L199.4,272.6 L199.8,258.3 L200.1,260.2 L200.5,255.6 L200.8,262.8 L201.2,266.0 L201.5,264.3 L201.8,262.2 L202.2,267.5 L202.5,260.1 L202.9,259.3 L203.2,264.1 L203.6,264.7 L203.9,265.0 L204.3,264.5 L204.6,273.9 L205.0,259.6 L205.3,267.0 L205.7,264.1 L206.0,266.5 L206.3,259.6 L206.7,262.7 L207.0,259.2 L207.4,258.3 L207.7,267.1 L208.1,245.5 L208.4,263.0 L208.8,271.5 L209.1,268.1 L209.5,268.1 L209.8,263.3 L210.1,255.8 L210.5,263.4 L210.8,264.5 L211.2,264.0 L211.5,263.4 L211.9,266.0 L212.2,264.1 L212.6,258.4 L212.9,263.9 L213.3,261.6 L213.6,269.2 L213.9,271.3 L214.3,266.7 L214.6,271.4 L215.0,260.7 L215.3,268.4 L215.7,269.9 L216.0,264.3 L216.4,274.4 L216.7,252.2 L217.1,263.3 L217.4,272.7 L217.7,278.2 L218.1,265.0 L218.4,267.5 L218.8,271.5 L219.1,262.2 L219.5,263.9 L219.8,266.6 L220.2,271.5 L220.5,273.9 L220.9,263.5 L221.2,269.2 L221.6,259.4 L221.9,269.8 L222.2,264.4 L222.6,268.5 L222.9,270.5 L223.3,270.3 L223.6,274.5 L224.0,261.4 L224.3,273.2 L224.7,275.1 L225.0,275.3 L225.4,276.2 L225.7,270.3 L226.0,274.1 L226.4,273.9 L226.7,278.6 L227.1,274.8 L227.4,273.9 L227.8,272.9 L228.1,278.3 L228.5,275.0 L228.8,284.9 L229.2,277.3 L229.5,274.7 L229.8,268.2 L230.2,268.4 L230.5,275.7 L230.9,273.4 L231.2,264.9 L231.6,278.5 L231.9,262.9 L232.3,282.7 L232.6,272.1 L233.0,282.3 L233.3,275.3 L233.7,277.5 L234.0,276.0 L234.3,270.4 L234.7,271.1 L235.0,271.9 L235.4,282.8 L235.7,277.0 L236.1,278.0 L236.4,277.4 L236.8,284.9 L237.1,273.8 L237.5,280.3 L237.8,275.1 L238.1,274.4 L238.5,282.6 L238.8,275.5 L239.2,279.9 L239.5,280.9 L239.9,283.0 L240.2,272.9 L240.6,287.9 L240.9,277.0 L241.3,278.7 L241.6,285.6 L241.9,277.7 L242.3,285.7 L242.6,282.8 L243.0,279.1 L243.3,287.4 L243.7,280.0 L244.0,279.3 L244.4,276.0 L244.7,285.8 L245.1,279.6 L245.4,277.5 L245.7,278.9 L246.1,282.7 L246.4,288.0 L246.8,294.0 L247.1,281.1 L247.5,281.5 L247.8,279.3 L248.2,290.4 L248.5,279.1 L248.9,276.9 L249.2,287.5 L249.6,279.8 L249.9,289.1 L250.2,286.4 L250.6,280.6 L250.9,283.9 L251.3,302.3 L251.6,286.4 L252.0,273.6 L252.3,287.1 L252.7,276.7 L253.0,294.6 L253.4,278.9 L253.7,280.2 L254.0,285.6 L254.4,288.4 L254.7,278.5 L255.1,272.5 L255.4,290.6 L255.8,287.0 L256.1,282.6 L256.5,283.5 L256.8,292.0 L257.2,286.2 L257.5,290.2 L257.8,283.1 L258.2,284.3 L258.5,288.7 L258.9,295.0 L259.2,281.0 L259.6,287.7 L259.9,285.6 L260.3,294.0 L260.6,288.0 L261.0,285.6 L261.3,288.1 L261.7,278.3 L262.0,285.5 L262.3,287.1 L262.7,282.9 L263.0,280.7 L263.4,290.3 L263.7,283.9 L264.1,293.1 L264.4,279.8 L264.8,294.3 L265.1,278.7 L265.5,284.9 L265.8,285.8 L266.1,288.4 L266.5,285.6 L266.8,291.9 L267.2,278.9 L267.5,289.7 L267.9,282.7 L268.2,286.8 L268.6,286.4 L268.9,287.2 L269.3,292.4 L269.6,285.2 L269.9,293.8 L270.3,290.5 L270.6,291.3 L271.0,292.2 L271.3,299.6 L271.7,287.6 L272.0,296.1 L272.4,293.2 L272.7,288.3 L273.1,293.8 L273.4,298.1 L273.8,294.0 L274.1,294.0 L274.4,296.4 L274.8,296.3 L275.1,293.0 L275.5,282.3 L275.8,291.3 L276.2,294.7 L276.5,290.4 L276.9,294.1 L277.2,295.1 L277.6,292.2 L277.9,284.9 L278.2,292.1 L278.6,288.3 L278.9,290.7 L279.3,297.0 L279.6,295.0 L280.0,294.4 L280.3,292.5 L280.7,294.7 L281.0,304.7 L281.4,298.7 L281.7,296.2 L282.0,298.5 L282.4,302.0 L282.7,294.0 L283.1,299.7 L283.4,298.2 L283.8,304.1 L284.1,299.9 L284.5,302.7 L284.8,297.8 L285.2,317.8 L285.5,295.0 L285.8,298.2 L286.2,301.2 L286.5,296.1 L286.9,296.8 L287.2,298.4 L287.6,305.7 L287.9,292.6 L288.3,303.9 L288.6,318.7 L289.0,299.4 L289.3,298.7 L289.7,309.2 L290.0,301.5 L290.3,302.6 L290.7,300.5 L291.0,297.5 L291.4,293.1 L291.7,305.7 L292.1,298.2 L292.4,300.6 L292.8,298.5 L293.1,305.3 L293.5,300.4 L293.8,290.6 L294.1,301.2 L294.5,308.3 L294.8,306.3 L295.2,310.8 L295.5,314.3 L295.9,294.7 L296.2,305.6 L296.6,308.0 L296.9,301.7 L297.3,308.0 L297.6,304.2 L297.9,305.3 L298.3,309.0 L298.6,307.3 L299.0,302.2 L299.3,309.4 L299.7,307.5 L300.0,299.0 L300.4,300.9 L300.7,306.9 L301.1,301.3 L301.4,306.1 L301.8,303.2 L302.1,303.9 L302.4,315.8 L302.8,305.2 L303.1,297.1 L303.5,304.3 L303.8,311.7 L304.2,308.0 L304.5,313.7 L304.9,301.1 L305.2,307.7 L305.6,304.9 L305.9,304.8 L306.2,297.6 L306.6,304.1 L306.9,313.6 L307.3,304.0 L307.6,303.5 L308.0,299.0 L308.3,313.2 L308.7,303.6 L309.0,309.6 L309.4,311.1 L309.7,309.2 L310.0,307.0 L310.4,304.3 L310.7,312.6 L311.1,302.0 L311.4,303.0 L311.8,310.8 L312.1,307.0 L312.5,306.7 L312.8,312.6 L313.2,307.7 L313.5,311.7 L313.8,311.6 L314.2,310.1 L314.5,314.4 L314.9,296.8 L315.2,311.3 L315.6,311.4 L315.9,307.8 L316.3,313.9 L316.6,310.0 L317.0,313.8 L317.3,319.4 L317.7,307.3 L318.0,304.6 L318.3,311.9 L318.7,317.5 L319.0,311.1 L319.4,308.1 L319.7,314.3 L320.1,308.2 L320.4,308.4 L320.8,316.0 L321.1,310.5 L321.5,312.5 L321.8,316.6 L322.1,314.2 L322.5,313.2 L322.8,315.4 L323.2,320.6 L323.5,319.1 L323.9,310.8 L324.2,309.2 L324.6,313.3 L324.9,314.8 L325.3,316.5 L325.6,310.0 L325.9,318.1 L326.3,307.1 L326.6,314.8 L327.0,313.4 L327.3,319.5 L327.7,314.1 L328.0,315.9 L328.4,315.5 L328.7,318.7 L329.1,309.6 L329.4,307.6 L329.8,309.1 L330.1,308.7 L330.4,307.4 L330.8,315.9 L331.1,313.0 L331.5,313.6 L331.8,317.0 L332.2,320.6 L332.5,321.6 L332.9,322.5 L333.2,317.9 L333.6,312.5 L333.9,313.1 L334.2,319.1 L334.6,317.3 L334.9,319.6 L335.3,323.2 L335.6,317.3 L336.0,319.4 L336.3,315.1 L336.7,324.7 L337.0,316.6 L337.4,314.4 L337.7,312.6 L338.0,305.3 L338.4,308.3 L338.7,314.1 L339.1,317.1 L339.4,311.7 L339.8,316.1 L340.1,310.0 L340.5,313.6 L340.8,314.8 L341.2,309.6 L341.5,325.7 L341.8,315.0 L342.2,312.4 L342.5,319.7 L342.9,309.4 L343.2,305.3 L343.6,306.2 L343.9,310.8 L344.3,310.7 L344.6,310.8 L345.0,309.5 L345.3,314.4 L345.7,313.8 L346.0,308.4 L346.3,304.5 L346.7,311.6 L347.0,311.3 L347.4,311.3 L347.7,315.9 L348.1,316.3 L348.4,314.0 L348.8,315.3 L349.1,311.4 L349.5,319.9 L349.8,323.7 L350.1,318.2 L350.5,318.7 L350.8,318.5 L351.2,311.4 L351.5,314.6 L351.9,316.2 L352.2,317.0 L352.6,318.3 L352.9,312.5 L353.3,316.2 L353.6,318.2 L353.9,310.4 L354.3,311.8 L354.6,313.1 L355.0,312.1 L355.3,316.0 L355.7,307.9 L356.0,310.9 L356.4,311.3 L356.7,309.6 L357.1,302.4 L357.4,307.4 L357.8,311.7 L358.1,313.2 L358.4,311.4 L358.8,304.2 L359.1,314.1 L359.5,317.0 L359.8,322.4 L360.2,316.2 L360.5,314.5 L360.9,308.7 L361.2,318.8 L361.6,338.6 L361.9,322.7 L362.2,330.7 L362.6,318.3 L362.9,320.0 L363.3,316.9 L363.6,328.5 L364.0,333.8 L364.3,320.4 L364.7,311.3 L365.0,315.1 L365.4,323.8 L365.7,325.6 L366.0,322.0 L366.4,322.6 L366.7,320.6 L367.1,318.5 L367.4,315.3 L367.8,326.0 L368.1,319.9 L368.5,315.4 L368.8,306.0 L369.2,309.8 L369.5,313.6 L369.9,311.0 L370.2,309.7 L370.5,305.0 L370.9,304.3 L371.2,291.1 L371.6,300.7 L371.9,311.9 L372.3,325.9 L372.6,311.8 L373.0,299.1 L373.3,305.5 L373.7,311.9 L374.0,314.6 L374.3,316.2 L374.7,305.3 L375.0,302.0 L375.4,320.2 L375.7,311.6 L376.1,303.8 L376.4,318.6 L376.8,313.8 L377.1,303.8 L377.5,311.8 L377.8,316.7 L378.1,316.4 L378.5,324.9 L378.8,330.7 L379.2,315.6 L379.5,307.3 L379.9,309.7 L380.2,306.7 L380.6,307.0 L380.9,317.7 L381.3,315.0 L381.6,311.2 L381.9,326.7 L382.3,321.2 L382.6,323.8 L383.0,320.8 L383.3,312.3 L383.7,322.3 L384.0,326.7 L384.4,316.9 L384.7,311.2 L385.1,313.8 L385.4,317.7 L385.8,319.7 L386.1,321.5 L386.4,326.3 L386.8,307.1 L387.1,312.9 L387.5,321.1 L387.8,317.9 L388.2,323.2 L388.5,315.9 L388.9,321.0 L389.2,328.0 L389.6,324.2 L389.9,328.7 L390.2,327.1 L390.6,330.2 L390.9,326.3 L391.3,318.7 L391.6,314.5 L392.0,309.7 L392.3,308.0 L392.7,304.4 L393.0,308.7 L393.4,322.6 L393.7,327.2 L394.0,325.2 L394.4,326.3 L394.7,319.3 L395.1,322.0 L395.4,331.1 L395.8,323.4 L396.1,322.3 L396.5,324.1 L396.8,327.7 L397.2,326.7 L397.5,324.6 L397.9,327.3 L398.2,326.4 L398.5,325.8 L398.9,330.4 L399.2,322.9 L399.6,326.3 L399.9,333.5 L400.3,319.6 L400.6,317.9 L401.0,331.1 L401.3,341.5 L401.7,345.1 L402.0,317.1 L402.3,337.7 L402.7,335.7 L403.0,327.4 L403.4,327.4 L403.7,324.6 L404.1,323.2 L404.4,327.5 L404.8,327.6 L405.1,325.9 L405.5,309.4 L405.8,316.3 L406.1,321.4 L406.5,325.7 L406.8,333.0 L407.2,320.0 L407.5,324.2 L407.9,326.0 L408.2,332.3 L408.6,324.3 L408.9,334.9 L409.3,331.5 L409.6,324.9 L409.9,331.8 L410.3,325.1 L410.6,329.8 L411.0,323.7 L411.3,320.0 L411.7,327.5 L412.0,326.7 L412.4,333.1 L412.7,343.1 L413.1,333.3 L413.4,349.4 L413.8,357.3 L414.1,345.1 L414.4,339.0 L414.8,343.4 L415.1,340.9 L415.5,334.0 L415.8,336.1 L416.2,341.1 L416.5,340.9 L416.9,341.5 L417.2,339.6 L417.6,339.4 L417.9,332.5 L418.2,346.6 L418.6,346.1 L418.9,330.9 L419.3,334.5 L419.6,343.1 L420.0,336.6 L420.3,334.3 L420.7,335.9 L421.0,330.8 L421.4,326.0 L421.7,318.6 L422.0,332.3 L422.4,344.2 L422.7,330.8 L423.1,327.0 L423.4,331.1 L423.8,335.3 L424.1,349.7 L424.5,341.4 L424.8,342.8 L425.2,342.4 L425.5,344.8 L425.9,350.0 L426.2,344.3 L426.5,340.8 L426.9,338.5 L427.2,333.4 L427.6,337.4 L427.9,347.5 L428.3,352.0 L428.6,331.6 L429.0,336.4 L429.3,342.0 L429.7,343.8 L430.0,328.4 L430.3,349.0 L430.7,338.3 L431.0,336.0 L431.4,333.2 L431.7,341.9 L432.1,335.2 L432.4,331.5 L432.8,338.6 L433.1,340.4 L433.5,328.0 L433.8,328.6 L434.1,336.1 L434.5,339.7 L434.8,337.1 L435.2,343.2 L435.5,344.2 L435.9,347.6 L436.2,354.5 L436.6,338.3 L436.9,349.1 L437.3,354.1 L437.6,357.9 L437.9,346.4 L438.3,339.6 L438.6,342.5 L439.0,337.9 L439.3,342.2 L439.7,345.9 L440.0,345.8 L440.4,350.5 L440.7,343.7 L441.1,342.2 L441.4,333.8 L441.8,333.9 L442.1,331.8 L442.4,341.5 L442.8,350.9 L443.1,346.9 L443.5,346.0 L443.8,349.8 L444.2,346.3 L444.5,349.0 L444.9,371.0 L445.2,351.6 L445.6,354.9 L445.9,332.9 L446.2,341.7 L446.6,346.6 L446.9,343.1 L447.3,344.7 L447.6,358.4 L448.0,352.0 L448.3,337.8 L448.7,357.1 L449.0,353.3 L449.4,343.0 L449.7,345.4 L450.0,353.0 L450.4,352.5 L450.7,332.5 L451.1,329.7 L451.4,334.9 L451.8,341.4 L452.1,332.6 L452.5,338.4 L452.8,343.9 L453.2,339.3 L453.5,340.7 L453.9,353.7 L454.2,348.2 L454.5,335.6 L454.9,360.4 L455.2,358.6 L455.6,357.3 L455.9,357.9 L456.3,355.1 L456.6,347.0 L457.0,327.4 L457.3,326.8 L457.7,338.8 L458.0,348.6 L458.3,352.5 L458.7,352.0 L459.0,343.1 L459.4,349.6 L459.7,352.4 L460.1,348.1 L460.4,348.7 L460.8,347.7 L461.1,323.6 L461.5,333.5 L461.8,341.0 L462.1,342.4 L462.5,349.0 L462.8,338.7 L463.2,337.9 L463.5,338.8 L463.9,337.7 L464.2,350.8 L464.6,353.3 L464.9,373.8 L465.3,348.7 L465.6,338.8 L466.0,352.3 L466.3,333.8 L466.6,333.0 L467.0,347.6 L467.3,346.1 L467.7,359.9 L468.0,347.1 L468.4,347.2 L468.7,357.5 L469.1,349.9 L469.4,358.6 L469.8,357.4 L470.1,347.1 L470.4,352.1 L470.8,350.5 L471.1,354.8 L471.5,347.7 L471.8,349.0 L472.2,347.6 L472.5,352.9 L472.9,362.0 L473.2,355.0 L473.6,353.8 L473.9,361.3 L474.2,359.1 L474.6,359.2 L474.9,359.0 L475.3,354.0 L475.6,349.8 L476.0,366.7 L476.3,380.5 L476.7,359.9 L477.0,345.8 L477.4,347.6 L477.7,360.5 L478.0,360.8 L478.4,363.4 L478.7,360.4 L479.1,356.0 L479.4,356.1 L479.8,348.4 L480.1,356.6 L480.5,349.1 L480.8,347.8 L481.2,344.6 L481.5,343.9 L481.9,347.6 L482.2,349.3 L482.5,350.0 L482.9,353.2 L483.2,349.8 L483.6,350.3 L483.9,343.8 L484.3,340.3 L484.6,345.6 L485.0,357.4 L485.3,359.0 L485.7,355.4 L486.0,354.6 L486.3,359.6 L486.7,368.1 L487.0,365.2 L487.4,349.3 L487.7,357.4 L488.1,361.6 L488.4,361.6 L488.8,357.1 L489.1,349.5 L489.5,351.8 L489.8,352.6 L490.1,360.2 L490.5,358.3 L490.8,354.3 L491.2,353.5 L491.5,353.0 L491.9,350.6 L492.2,339.4 L492.6,346.6 L492.9,354.0 L493.3,362.5 L493.6,356.6 L494.0,380.0 L494.3,342.6 L494.6,340.7 L495.0,342.6 L495.3,341.5 L495.7,348.3 L496.0,355.6 L496.4,356.0 L496.7,358.3 L497.1,357.1 L497.4,333.8 L497.8,335.3 L498.1,351.7 L498.4,356.6 L498.8,354.5 L499.1,357.3 L499.5,357.5 L499.8,366.1 L500.2,359.2 L500.5,335.8 L500.9,321.5 L501.2,322.4 L501.6,346.5 L501.9,344.9 L502.2,351.9 L502.6,355.7 L502.9,338.7 L503.3,329.9 L503.6,364.2 L504.0,373.9 L504.3,369.0 L504.7,366.1 L505.0,360.4 L505.4,355.2 L505.7,349.8 L506.0,359.2 L506.4,368.0 L506.7,362.8 L507.1,366.8 L507.4,365.6 L507.8,361.2 L508.1,368.5 L508.5,361.0 L508.8,364.5 L509.2,360.2 L509.5,352.5 L509.9,356.3 L510.2,347.8 L510.5,346.4 L510.9,365.2 L511.2,359.1 L511.6,351.5 L511.9,352.9 L512.3,357.5 L512.6,349.5 L513.0,352.6 L513.3,358.9 L513.7,357.0 L514.0,346.3 L514.3,351.2 L514.7,347.8 L515.0,345.3 L515.4,357.5 L515.7,356.3 L516.1,352.7 L516.4,353.1 L516.8,353.1 L517.1,350.8 L517.5,345.1 L517.8,343.8 L518.1,354.7 L518.5,357.9 L518.8,345.9 L519.2,358.9 L519.5,355.1 L519.9,349.1 L520.2,355.4 L520.6,367.5 L520.9,355.8 L521.3,344.8 L521.6,339.5 L522.0,345.2 L522.3,347.8 L522.6,358.1 L523.0,356.5 L523.3,352.9 L523.7,347.6 L524.0,348.6 L524.4,361.3 L524.7,377.2 L525.1,367.1 L525.4,351.8 L525.8,343.1 L526.1,340.4 L526.4,357.9 L526.8,350.3 L527.1,352.4 L527.5,361.6 L527.8,378.7 L528.2,366.0 L528.5,358.1 L528.9,355.6 L529.2,357.1 L529.6,348.3 L529.9,345.1 L530.2,355.0 L530.6,362.0 L530.9,375.0 L531.3,354.3 L531.6,350.8 L532.0,352.3 L532.3,346.1 L532.7,354.0 L533.0,336.2 L533.4,345.5 L533.7,349.1 L534.0,339.7 L534.4,343.4 L534.7,334.0 L535.1,330.4 L535.4,333.7 L535.8,338.1 L536.1,318.8 L536.5,331.7 L536.8,339.8 L537.2,340.6 L537.5,353.8 L537.9,348.8 L538.2,344.5 L538.5,331.6 L538.9,340.1 L539.2,356.6 L539.6,351.8 L539.9,338.0 L540.3,330.6 L540.6,335.1 L541.0,337.9 L541.3,337.8 L541.7,334.6 L542.0,342.2 L542.3,340.3 L542.7,343.8 L543.0,340.7 L543.4,340.6 L543.7,327.2 L544.1,349.3 L544.4,354.9 L544.8,337.7 L545.1,338.3 L545.5,341.3 L545.8,352.9 L546.1,353.7 L546.5,341.6 L546.8,345.4 L547.2,352.4 L547.5,344.6 L547.9,339.6 L548.2,334.4 L548.6,349.8 L548.9,346.3 L549.3,344.3 L549.6,343.4 L550.0,345.8 L550.3,346.4 L550.6,339.9 L551.0,340.1 L551.3,345.1 L551.7,342.5 L552.0,343.0 L552.4,333.0 L552.7,331.5 L553.1,332.2 L553.4,321.6 L553.8,320.4 L554.1,338.0 L554.4,360.1 L554.8,359.4 L555.1,343.6 L555.5,328.0 L555.8,339.8 L556.2,349.5 L556.5,338.7 L556.9,333.7 L557.2,334.9 L557.6,333.2 L557.9,338.1 L558.2,339.2 L558.6,331.0 L558.9,341.1 L559.3,332.8 L559.6,339.0 L560.0,341.4 L560.3,335.1 L560.7,337.6 L561.0,347.6 L561.4,346.9 L561.7,337.1 L562.1,344.1 L562.4,307.5 L562.7,321.4 L563.1,319.0 L563.4,328.9 L563.8,337.0 L564.1,341.2 L564.5,331.3 L564.8,327.2 L565.2,337.8 L565.5,327.8 L565.9,334.4 L566.2,338.8 L566.5,333.7 L566.9,338.2 L567.2,331.4 L567.6,358.8 L567.9,342.1 L568.3,332.9 L568.6,326.0 L569.0,337.6 L569.3,344.7 L569.7,335.8 L570.0,320.4 L570.3,329.7 L570.7,324.0 L571.0,321.6 L571.4,324.7 L571.7,320.5 L572.1,314.7 L572.4,318.9 L572.8,316.7 L573.1,323.4 L573.5,316.8 L573.8,317.5 L574.1,308.2 L574.5,308.3 L574.8,298.0 L575.2,308.4 L575.5,325.3 L575.9,332.7 L576.2,314.1 L576.6,308.9 L576.9,323.7 L577.3,332.5 L577.6,329.5 L578.0,321.1 L578.3,324.7 L578.6,327.9 L579.0,324.9 L579.3,334.5 L579.7,317.0 L580.0,310.6 L580.4,313.6 L580.7,314.0 L581.1,318.2 L581.4,319.7 L581.8,323.5 L582.1,326.5 L582.4,323.4 L582.8,320.1 L583.1,321.7 L583.5,316.0 L583.8,315.9 L584.2,307.5 L584.5,313.5 L584.9,295.0 L585.2,310.7 L585.6,313.0 L585.9,351.0 L586.2,309.2 L586.6,308.2 L586.9,320.7 L587.3,293.7 L587.6,312.5 L588.0,314.5 L588.3,297.7 L588.7,314.2 L589.0,305.6 L589.4,307.5 L589.7,314.3 L590.1,305.8 L590.4,315.4 L590.7,316.3 L591.1,311.4 L591.4,308.7 L591.8,311.5 L592.1,314.8 L592.5,328.7 L592.8,330.9 L593.2,321.6 L593.5,318.3 L593.9,310.1 L594.2,312.6 L594.5,325.6 L594.9,316.7 L595.2,309.0 L595.6,296.8 L595.9,291.6 L596.3,300.2 L596.6,309.5 L597.0,316.8 L597.3,314.8 L597.7,311.9 L598.0,329.4 L598.3,328.0 L598.7,325.3 L599.0,312.6 L599.4,303.7 L599.7,324.5 L600.1,311.3 L600.4,300.5 L600.8,304.6 L601.1,313.5 L601.5,312.1 L601.8,317.7 L602.1,321.6 L602.5,304.8 L602.8,314.9 L603.2,298.9 L603.5,299.1 L603.9,312.1 L604.2,310.2 L604.6,322.5 L604.9,327.3 L605.3,322.1 L605.6,316.8 L606.0,324.6 L606.3,312.4 L606.6,316.6 L607.0,317.7 L607.3,307.3 L607.7,317.2 L608.0,310.8 L608.4,306.5 L608.7,309.8 L609.1,302.1 L609.4,312.7 L609.8,313.2 L610.1,314.4 L610.4,320.2 L610.8,311.6 L611.1,283.8 L611.5,297.3 L611.8,305.9 L612.2,306.8 L612.5,303.5 L612.9,308.8 L613.2,314.5 L613.6,314.7 L613.9,315.2 L614.2,314.9 L614.6,308.4 L614.9,300.3 L615.3,313.3 L615.6,301.3 L616.0,294.6 L616.3,291.2 L616.7,291.8 L617.0,295.2 L617.4,301.3 L617.7,301.7 L618.1,288.1 L618.4,291.2 L618.7,298.0 L619.1,297.6 L619.4,308.2 L619.8,310.5 L620.1,300.3 L620.5,296.8 L620.8,291.2 L621.2,286.0 L621.5,295.0 L621.9,294.1 L622.2,294.8 L622.5,291.6 L622.9,301.2 L623.2,300.9 L623.6,303.9 L623.9,311.8 L624.3,310.0 L624.6,294.1 L625.0,296.0 L625.3,302.0 L625.7,303.4 L626.0,298.9 L626.3,282.3 L626.7,285.6 L627.0,294.2 L627.4,289.0 L627.7,299.1 L628.1,301.3 L628.4,311.9 L628.8,316.3 L629.1,297.5 L629.5,301.2 L629.8,302.8 L630.1,301.8 L630.5,288.0 L630.8,297.2 L631.2,291.0 L631.5,284.8 L631.9,277.8 L632.2,295.3 L632.6,295.5 L632.9,303.2 L633.3,301.3 L633.6,292.1 L634.0,296.6 L634.3,296.3 L634.6,304.9 L635.0,294.7 L635.3,276.8 L635.7,287.8 L636.0,303.2 L636.4,306.3 L636.7,303.5 L637.1,302.2 L637.4,273.8 L637.8,292.2 L638.1,286.2 L638.4,291.9 L638.8,283.4 L639.1,293.3 L639.5,300.1 L639.8,280.6 L640.2,292.5 L640.5,295.2 L640.9,291.8 L641.2,286.7 L641.6,289.1 L641.9,274.8 L642.2,280.9 L642.6,286.8 L642.9,276.8 L643.3,290.3 L643.6,291.4 L644.0,290.7 L644.3,290.9 L644.7,288.9 L645.0,275.0 L645.4,278.4 L645.7,287.7 L646.1,273.7 L646.4,288.4 L646.7,279.0 L647.1,277.7 L647.4,290.2 L647.8,289.3 L648.1,300.7 L648.5,305.0 L648.8,297.4 L649.2,299.8 L649.5,299.7 L649.9,277.5 L650.2,292.4 L650.5,297.5 L650.9,318.2 L651.2,297.7 L651.6,300.9 L651.9,304.5 L652.3,294.4 L652.6,293.5 L653.0,294.3 L653.3,297.9 L653.7,307.8 L654.0,297.5 L654.3,295.6 L654.7,288.7 L655.0,282.3 L655.4,290.3 L655.7,290.6 L656.1,294.8 L656.4,294.2 L656.8,300.5 L657.1,292.3 L657.5,300.4 L657.8,300.3 L658.2,292.8 L658.5,311.1 L658.8,313.6 L659.2,293.4 L659.5,284.9 L659.9,296.7 L660.2,302.8 L660.6,300.8 L660.9,306.2 L661.3,310.2 L661.6,309.3 L662.0,298.0 L662.3,282.9 L662.6,287.3 L663.0,295.3 L663.3,294.7 L663.7,295.2 L664.0,298.5 L664.4,296.8 L664.7,289.4 L665.1,298.3 L665.4,300.5 L665.8,299.6 L666.1,292.4 L666.4,301.0 L666.8,284.2 L667.1,279.7 L667.5,280.6 L667.8,289.4 L668.2,288.3 L668.5,276.1 L668.9,284.5 L669.2,289.1 L669.6,283.6 L669.9,266.2 L670.2,293.9 L670.6,301.4 L670.9,288.5 L671.3,285.0 L671.6,271.5 L672.0,278.4 L672.3,293.2 L672.7,294.2 L673.0,275.5 L673.4,281.8 L673.7,293.4 L674.1,302.1 L674.4,302.2 L674.7,294.6 L675.1,297.9 L675.4,307.6 L675.8,312.3 L676.1,295.1 L676.5,301.8 L676.8,313.9 L677.2,293.7 L677.5,298.0 L677.9,291.3 L678.2,289.8 L678.5,285.6 L678.9,272.5 L679.2,280.0 L679.6,274.9 L679.9,276.3 L680.3,271.2 L680.6,289.4 L681.0,281.8 L681.3,284.4 L681.7,291.9 L682.0,308.6 L682.3,313.9 L682.7,305.0 L683.0,298.9 L683.4,285.8 L683.7,288.0 L684.1,286.7 L684.4,274.5 L684.8,267.0 L685.1,287.6 L685.5,304.4 L685.8,311.2 L686.2,298.7 L686.5,302.8 L686.8,280.8 L687.2,285.5 L687.5,292.1 L687.9,298.2 L688.2,291.4 L688.6,282.1 L688.9,291.7 L689.3,295.6 L689.6,286.8 L690.0,272.5 L690.3,288.6 L690.6,289.9 L691.0,293.5 L691.3,285.5 L691.7,279.8 L692.0,282.7 L692.4,282.2 L692.7,276.3 L693.1,288.8 L693.4,296.8 L693.8,307.0 L694.1,293.5 L694.4,302.1 L694.8,311.3 L695.1,300.7 L695.5,286.9 L695.8,290.8 L696.2,301.3 L696.5,297.8 L696.9,292.4 L697.2,282.3 L697.6,276.8 L697.9,294.4 L698.2,296.8 L698.6,290.0 L698.9,290.6 L699.3,299.8 L699.6,297.8 L700.0,296.4 L700.3,296.3 L700.7,297.0 L701.0,289.5 L701.4,280.6 L701.7,285.6 L702.1,304.6 L702.4,297.9 L702.7,295.1 L703.1,300.5 L703.4,293.0 L703.8,273.6 L704.1,295.6 L704.5,301.4 L704.8,299.5 L705.2,310.2 L705.5,309.3 L705.9,305.9 L706.2,298.7 L706.5,297.1 L706.9,290.2 L707.2,309.1 L707.6,321.2 L707.9,321.2 L708.3,303.3 L708.6,307.1 L709.0,303.6 L709.3,293.8 L709.7,288.2 L710.0,301.7 L710.3,303.6 L710.7,317.5 L711.0,324.0 L711.4,315.0 L711.7,302.4 L712.1,299.0 L712.4,304.3 L712.8,308.2 L713.1,310.8 L713.5,312.2 L713.8,314.2 L714.2,308.6 L714.5,307.5 L714.8,302.1 L715.2,305.6 L715.5,307.8 L715.9,302.4 L716.2,299.6 L716.6,306.7 L716.9,304.1 L717.3,308.4 L717.6,310.8 L718.0,301.0 L718.3,295.3 L718.6,297.1 L719.0,296.4 L719.3,310.9 L719.7,295.5 L720.0,301.6 L720.4,308.0 L720.7,303.1 L721.1,304.4 L721.4,302.5 L721.8,309.1 L722.1,325.0 L722.4,306.9 L722.8,314.3 L723.1,313.4 L723.5,305.1 L723.8,306.6 L724.2,307.8 L724.5,309.3 L724.9,311.8 L725.2,314.9 L725.6,310.2 L725.9,312.3 L726.2,308.0 L726.6,314.5 L726.9,314.7 L727.3,327.0 L727.6,321.5 L728.0,312.3 L728.3,315.2 L728.7,329.6 L729.0,333.3 L729.4,330.8 L729.7,321.0 L730.1,308.3 L730.4,322.8 L730.7,329.7 L731.1,328.7 L731.4,327.8 L731.8,332.5 L732.1,323.4 L732.5,312.9 L732.8,323.2 L733.2,331.5 L733.5,318.8 L733.9,318.9 L734.2,307.1 L734.5,313.2 L734.9,326.5 L735.2,320.0 L735.6,315.4 L735.9,322.1 L736.3,316.0 L736.6,324.0 L737.0,326.9 L737.3,318.3 L737.7,310.3 L738.0,307.9 L738.3,323.8 L738.7,321.5 L739.0,319.6 L739.4,324.2 L739.7,315.6 L740.1,317.1 L740.4,322.9 L740.8,315.6 L741.1,315.8 L741.5,326.6 L741.8,333.1 L742.2,328.6 L742.5,324.5 L742.8,321.7 L743.2,309.2 L743.5,317.9 L743.9,318.1 L744.2,312.7 L744.6,325.5 L744.9,322.2 L745.3,315.1 L745.6,314.5 L746.0,322.6 L746.3,320.5 L746.6,326.8 L747.0,326.4 L747.3,324.1 L747.7,319.5 L748.0,320.6 L748.4,331.1 L748.7,350.4 L749.1,331.0 L749.4,316.1 L749.8,308.8 L750.1,317.4 L750.4,322.2 L750.8,313.7 L751.1,312.7 L751.5,309.3 L751.8,301.6 L752.2,320.6 L752.5,327.0 L752.9,337.8 L753.2,330.6 L753.6,323.3 L753.9,318.8 L754.3,326.5 L754.6,332.2 L754.9,326.1 L755.3,326.9 L755.6,328.3 L756.0,323.8 L756.3,322.4 L756.7,326.6 L757.0,352.0 L757.4,324.0 L757.7,329.3 L758.1,340.4 L758.4,335.2 L758.7,335.1 L759.1,333.6 L759.4,329.1 L759.8,322.9 L760.1,330.5 L760.5,333.8 L760.8,335.1 L761.2,329.3 L761.5,319.5 L761.9,332.9 L762.2,336.3 L762.5,322.1 L762.9,333.9 L763.2,339.7 L763.6,343.1 L763.9,332.9 L764.3,328.6 L764.6,336.3 L765.0,332.7 L765.3,334.4 L765.7,329.5 L766.0,330.1 L766.3,332.0 L766.7,332.4 L767.0,339.7 L767.4,360.4 L767.7,333.8 L768.1,331.3 L768.4,331.1 L768.8,346.7 L769.1,342.9 L769.5,345.3 L769.8,333.2 L770.2,329.3 L770.5,347.4 L770.8,340.2 L771.2,330.1 L771.5,331.2 L771.9,360.0 L772.2,348.7 L772.6,343.1 L772.9,334.7 L773.3,327.2 L773.6,326.6 L774.0,342.7 L774.3,344.0 L774.6,343.9 L775.0,353.6 L775.3,338.1 L775.7,332.2 L776.0,338.4 L776.4,345.5 L776.7,332.0 L777.1,345.1 L777.4,346.9 L777.8,349.5 L778.1,348.8 L778.4,349.5 L778.8,347.9 L779.1,351.5 L779.5,361.2 L779.8,347.9 L780.2,350.2 L780.5,383.8 L780.9,345.3 L781.2,351.1 L781.6,334.4 L781.9,342.6 L782.3,343.5 L782.6,346.6 L782.9,337.5 L783.3,334.2 L783.6,339.9 L784.0,339.1 L784.3,356.1 L784.7,356.8 L785.0,356.5 L785.4,353.8 L785.7,360.1 L786.1,345.1 L786.4,349.7 L786.7,349.9 L787.1,342.5 L787.4,344.0 L787.8,358.5 L788.1,354.3 L788.5,341.2 L788.8,334.6 L789.2,350.8 L789.5,344.9 L789.9,341.6 L790.2,337.0 L790.5,333.2 L790.9,344.4 L791.2,348.3 L791.6,346.0 L791.9,346.5 L792.3,352.8 L792.6,350.2 L793.0,354.7 L793.3,355.2 L793.7,342.5 L794.0,328.8 L794.3,353.0 L794.7,356.5 L795.0,353.0 L795.4,342.3 L795.7,347.2 L796.1,347.5 L796.4,352.2 L796.8,356.7 L797.1,351.1 L797.5,354.2 L797.8,358.1 L798.2,358.1 L798.5,357.0 L798.8,376.2 L799.2,363.0 L799.5,353.1 L799.9,356.3 L800.2,354.1 L800.6,352.5 L800.9,354.9 L801.3,356.3 L801.6,343.4 L802.0,364.6 L802.3,353.2 L802.6,339.6 L803.0,348.5 L803.3,384.9 L803.7,367.3 L804.0,342.5 L804.4,334.6 L804.7,356.8 L805.1,351.4 L805.4,353.2 L805.8,350.6 L806.1,354.3 L806.4,367.6 L806.8,352.8 L807.1,351.3 L807.5,357.8 L807.8,352.4 L808.2,353.0 L808.5,350.6 L808.9,350.4 L809.2,353.4 L809.6,350.8 L809.9,357.6 L810.3,358.3 L810.6,355.4 L810.9,359.8 L811.3,344.8 L811.6,353.2 L812.0,361.6 L812.3,355.9 L812.7,353.6 L813.0,362.0 L813.4,359.5 L813.7,358.8 L814.1,362.2 L814.4,363.4 L814.7,351.3 L815.1,351.0 L815.4,346.8 L815.8,353.6 L816.1,368.4 L816.5,360.1 L816.8,362.1 L817.2,367.4 L817.5,373.0 L817.9,361.7 L818.2,354.0 L818.5,355.4 L818.9,358.3 L819.2,361.9 L819.6,363.9 L819.9,359.9 L820.3,351.3 L820.6,350.0 L821.0,342.3 L821.3,346.9 L821.7,361.2 L822.0,364.1 L822.3,371.6 L822.7,368.0 L823.0,369.3 L823.4,377.0 L823.7,359.7 L824.1,367.6 L824.4,362.1 L824.8,349.2 L825.1,348.8 L825.5,353.2 L825.8,355.4 L826.2,362.1 L826.5,369.4 L826.8,363.4 L827.2,361.1 L827.5,369.0 L827.9,365.9 L828.2,359.8 L828.6,366.4 L828.9,372.6 L829.3,375.1 L829.6,373.2 L830.0,386.0 L830.3,360.2 L830.6,366.4 L831.0,368.8 L831.3,361.4 L831.7,364.7 L832.0,370.1 L832.4,371.0 L832.7,361.3 L833.1,361.7 L833.4,361.8 L833.8,362.2 L834.1,358.6 L834.4,355.8 L834.8,353.9 L835.1,354.9 L835.5,358.5 L835.8,360.5 L836.2,365.4 L836.5,367.1 L836.9,366.4 L837.2,363.8 L837.6,372.1 L837.9,371.5 L838.3,361.0 L838.6,355.3 L838.9,362.5 L839.3,358.3 L839.6,360.2 L840.0,362.3 L840.3,359.0 L840.7,356.5 L841.0,354.9 L841.4,357.7 L841.7,351.0 L842.1,346.6 L842.4,358.2 L842.7,366.6 L843.1,365.4 L843.4,351.8 L843.8,366.8 L844.1,368.2 L844.5,354.6 L844.8,343.4 L845.2,358.3 L845.5,362.6 L845.9,359.9 L846.2,357.4 L846.5,360.6 L846.9,362.9 L847.2,372.9 L847.6,361.8 L847.9,356.5 L848.3,370.1 L848.6,357.7 L849.0,360.0 L849.3,360.4 L849.7,359.5 L850.0,382.3 L850.4,373.0 L850.7,368.6 L851.0,367.4 L851.4,372.5 L851.7,363.3 L852.1,359.2 L852.4,354.7 L852.8,345.1 L853.1,346.3 L853.5,349.2 L853.8,354.6 L854.2,354.6 L854.5,355.7 L854.8,361.0 L855.2,357.2 L855.5,363.2 L855.9,360.4 L856.2,378.2 L856.6,363.7 L856.9,363.6 L857.3,366.3 L857.6,361.9 L858.0,374.5 L858.3,372.2 L858.6,366.2 L859.0,363.8 L859.3,363.0 L859.7,359.7 L860.0,362.8 L860.4,366.5 L860.7,362.8 L861.1,352.4 L861.4,353.8 L861.8,352.1 L862.1,365.0 L862.4,359.6 L862.8,363.2 L863.1,368.7 L863.5,367.3 L863.8,382.4 L864.2,380.7 L864.5,372.2 L864.9,371.7 L865.2,371.7 L865.6,370.7 L865.9,357.9 L866.3,367.3 L866.6,367.2 L866.9,363.5 L867.3,383.9 L867.6,377.9 L868.0,371.5 L868.3,369.1 L868.7,367.0 L869.0,369.3 L869.4,364.5 L869.7,363.0 L870.1,372.7 L870.4,366.9 L870.7,360.2 L871.1,366.4 L871.4,371.2 L871.8,371.9 L872.1,365.0 L872.5,364.5 L872.8,360.6 L873.2,367.8 L873.5,368.1 L873.9,359.5 L874.2,362.2 L874.5,381.0 L874.9,386.9 L875.2,366.4 L875.6,358.6 L875.9,370.0 L876.3,368.3 L876.6,369.0 L877.0,359.2 L877.3,355.2 L877.7,372.6 L878.0,369.7 L878.4,369.6 L878.7,371.6 L879.0,366.1 L879.4,365.0 L879.7,370.6 L880.1,369.5 L880.4,369.0 L880.8,370.6 L881.1,371.2 L881.5,379.2 L881.8,377.2 L882.2,377.9 L882.5,372.5 L882.8,379.5 L883.2,371.0 L883.5,364.3 L883.9,367.0 L884.2,370.7 L884.6,356.8 L884.9,350.1 L885.3,354.0 L885.6,370.1 L886.0,374.4 L886.3,376.7 L886.6,376.1 L887.0,374.7 L887.3,368.1 L887.7,364.6 L888.0,362.9 L888.4,367.0 L888.7,363.1 L889.1,374.1 L889.4,363.3 L889.8,360.5 L890.1,353.3 L890.4,364.1 L890.8,373.8 L891.1,372.4 L891.5,364.2 L891.8,358.2 L892.2,368.6 L892.5,362.4 L892.9,366.6 L893.2,366.5 L893.6,361.0 L893.9,343.7 L894.3,355.9 L894.6,373.0 L894.9,374.8 L895.3,346.9 L895.6,356.4 L896.0,351.3 L896.3,344.9 L896.7,376.9 L897.0,367.9 L897.4,370.8 L897.7,377.8 L898.1,367.1 L898.4,367.5 L898.7,372.8 L899.1,376.5 L899.4,373.8 L899.8,370.6 L900.1,392.5 L900.5,377.3 L900.8,368.3 L901.2,381.9 L901.5,370.1 L901.9,372.5 L902.2,373.9 L902.5,376.6 L902.9,370.4 L903.2,372.6 L903.6,377.7 L903.9,371.2 L904.3,380.3 L904.6,378.5 L905.0,376.1 L905.3,374.0 L905.7,377.7 L906.0,375.3 L906.4,367.7 L906.7,368.0 L907.0,372.6 L907.4,387.5 L907.7,377.8 L908.1,364.7 L908.4,357.9 L908.8,372.0 L909.1,382.7 L909.5,383.2 L909.8,371.2 L910.2,362.8 L910.5,364.9 L910.8,372.4 L911.2,371.4 L911.5,371.7 L911.9,379.0 L912.2,366.6 L912.6,371.2 L912.9,363.6 L913.3,369.9 L913.6,368.7 L914.0,365.3 L914.3,364.1 L914.6,369.6 L915.0,373.9 L915.3,373.3 L915.7,372.9 L916.0,375.4 L916.4,376.7 L916.7,375.0 L917.1,373.3 L917.4,363.7 L917.8,365.0 L918.1,366.2 L918.4,372.1 L918.8,373.0 L919.1,370.4 L919.5,368.2 L919.8,364.5 L920.2,362.7 L920.5,366.4 L920.9,379.7 L921.2,374.4 L921.6,379.3 L921.9,372.2 L922.3,371.6 L922.6,369.3 L922.9,356.4 L923.3,365.6 L923.6,376.6 L924.0,381.7 L924.3,380.6 L924.7,373.7 L925.0,386.4 L925.4,383.3 L925.7,374.9 L926.1,370.0 L926.4,370.4 L926.7,359.9 L927.1,357.0 L927.4,376.2 L927.8,350.9 L928.1,357.8 L928.5,360.8 L928.8,369.4 L929.2,375.6 L929.5,372.5 L929.9,379.2 L930.2,385.7 L930.5,383.1 L930.9,370.3 L931.2,370.1 L931.6,369.8 L931.9,368.4 L932.3,379.9 L932.6,370.8 L933.0,373.0 L933.3,379.0 L933.7,380.7 L934.0,384.9 L934.4,374.4 L934.7,370.6 L935.0,371.9 L935.4,377.7 L935.7,375.9 L936.1,382.8 L936.4,388.9 L936.8,378.1 L937.1,366.2 L937.5,374.8 L937.8,366.4 L938.2,358.1 L938.5,373.0 L938.8,372.3 L939.2,368.2 L939.5,366.1 L939.9,367.4 L940.2,374.3 L940.6,379.0 L940.9,371.0 L941.3,362.2 L941.6,375.0 L942.0,377.8 L942.3,367.7 L942.6,360.5 L943.0,373.7 L943.3,382.8 L943.7,378.8 L944.0,380.2 L944.4,374.3 L944.7,372.8 L945.1,382.2 L945.4,385.4 L945.8,381.2 L946.1,372.0 L946.5,389.2 L946.8,380.9 L947.1,379.3 L947.5,375.6 L947.8,360.3 L948.2,382.1 L948.5,376.5 L948.9,362.9 L949.2,363.9 L949.6,362.5 L949.9,391.0 L950.3,356.1 L950.6,366.5 L950.9,370.4 L951.3,386.9 L951.6,372.0 L952.0,364.2 L952.3,376.1 L952.7,386.1 L953.0,373.5 L953.4,372.6 L953.7,379.5 L954.1,381.5 L954.4,370.4 L954.7,372.6 L955.1,375.0 L955.4,373.7 L955.8,372.5 L956.1,380.6 L956.5,368.2 L956.8,360.9 L957.2,383.7 L957.5,376.6 L957.9,368.7 L958.2,372.5 L958.5,379.9 L958.9,373.3 L959.2,355.7 L959.6,355.2 L959.9,364.2 L960.3,373.3 L960.6,370.0 L961.0,358.9 L961.3,353.9 L961.7,379.8 L962.0,390.8 L962.4,376.7 L962.7,367.4 L963.0,371.6 L963.4,375.2 L963.7,373.6 L964.1,374.9 L964.4,374.8 L964.8,376.4 L965.1,381.4 L965.5,372.8 L965.8,369.7 L966.2,371.9 L966.5,367.0"/>
<path class="tr" style="stroke-width:1.7" d="M33.5,480.0 L33.8,452.0 L34.2,452.1 L34.5,454.9 L34.9,460.8 L35.2,457.2 L35.6,455.2 L35.9,459.3 L36.3,453.6 L36.6,456.4 L37.0,453.1 L37.3,456.1 L37.6,451.4 L38.0,455.7 L38.3,447.8 L38.7,456.5 L39.0,455.2 L39.4,452.2 L39.7,450.1 L40.1,446.9 L40.4,456.6 L40.8,448.9 L41.1,449.3 L41.5,455.6 L41.8,453.7 L42.1,451.4 L42.5,451.9 L42.8,456.6 L43.2,452.4 L43.5,457.1 L43.9,448.6 L44.2,445.2 L44.6,453.1 L44.9,457.1 L45.3,454.3 L45.6,451.4 L45.9,448.1 L46.3,449.4 L46.6,448.5 L47.0,450.6 L47.3,449.8 L47.7,453.7 L48.0,446.1 L48.4,444.6 L48.7,448.8 L49.1,457.5 L49.4,448.8 L49.7,444.0 L50.1,454.4 L50.4,451.3 L50.8,457.0 L51.1,451.0 L51.5,441.0 L51.8,444.0 L52.2,457.6 L52.5,446.0 L52.9,452.3 L53.2,451.5 L53.5,447.9 L53.9,453.5 L54.2,463.7 L54.6,446.9 L54.9,447.4 L55.3,454.6 L55.6,447.9 L56.0,456.5 L56.3,450.1 L56.7,449.6 L57.0,444.3 L57.4,449.1 L57.7,462.6 L58.0,445.8 L58.4,461.6 L58.7,455.4 L59.1,455.3 L59.4,448.4 L59.8,448.9 L60.1,448.8 L60.5,449.4 L60.8,448.3 L61.2,455.2 L61.5,450.8 L61.8,451.9 L62.2,445.3 L62.5,450.4 L62.9,449.3 L63.2,453.9 L63.6,447.4 L63.9,453.3 L64.3,446.8 L64.6,451.7 L65.0,457.8 L65.3,450.2 L65.6,453.7 L66.0,452.7 L66.3,451.1 L66.7,452.0 L67.0,451.7 L67.4,462.1 L67.7,450.1 L68.1,452.1 L68.4,453.9 L68.8,449.6 L69.1,441.5 L69.5,447.3 L69.8,448.1 L70.1,448.3 L70.5,448.8 L70.8,450.6 L71.2,447.2 L71.5,462.1 L71.9,452.5 L72.2,452.2 L72.6,455.1 L72.9,446.7 L73.3,450.6 L73.6,451.0 L73.9,453.7 L74.3,451.7 L74.6,447.9 L75.0,447.8 L75.3,442.0 L75.7,453.9 L76.0,457.0 L76.4,449.0 L76.7,448.3 L77.1,457.8 L77.4,452.5 L77.7,448.6 L78.1,453.6 L78.4,450.0 L78.8,448.0 L79.1,454.0 L79.5,453.7 L79.8,454.1 L80.2,453.8 L80.5,451.5 L80.9,451.4 L81.2,454.1 L81.6,445.4 L81.9,446.6 L82.2,445.5 L82.6,462.0 L82.9,444.0 L83.3,453.2 L83.6,452.1 L84.0,456.5 L84.3,456.6 L84.7,452.7 L85.0,448.0 L85.4,454.4 L85.7,455.4 L86.0,451.4 L86.4,454.6 L86.7,454.4 L87.1,453.7 L87.4,456.1 L87.8,451.8 L88.1,454.4 L88.5,455.9 L88.8,461.6 L89.2,453.1 L89.5,450.9 L89.8,458.7 L90.2,459.9 L90.5,454.2 L90.9,463.9 L91.2,456.3 L91.6,448.0 L91.9,458.9 L92.3,449.0 L92.6,453.6 L93.0,466.8 L93.3,458.1 L93.6,450.1 L94.0,458.8 L94.3,452.9 L94.7,450.9 L95.0,452.6 L95.4,455.3 L95.7,457.3 L96.1,454.7 L96.4,460.1 L96.8,458.1 L97.1,454.2 L97.5,460.4 L97.8,455.9 L98.1,454.5 L98.5,458.4 L98.8,448.9 L99.2,465.0 L99.5,458.2 L99.9,461.5 L100.2,456.9 L100.6,450.8 L100.9,458.7 L101.3,452.7 L101.6,465.1 L101.9,459.7 L102.3,469.1 L102.6,461.5 L103.0,454.2 L103.3,457.5 L103.7,460.4 L104.0,462.8 L104.4,462.9 L104.7,459.5 L105.1,464.6 L105.4,461.9 L105.7,459.4 L106.1,460.0 L106.4,454.5 L106.8,464.6 L107.1,461.8 L107.5,465.9 L107.8,466.7 L108.2,467.8 L108.5,469.5 L108.9,454.1 L109.2,464.1 L109.6,460.6 L109.9,468.3 L110.2,464.7 L110.6,473.2 L110.9,465.4 L111.3,464.3 L111.6,458.7 L112.0,466.1 L112.3,460.6 L112.7,466.9 L113.0,464.1 L113.4,467.8 L113.7,469.3 L114.0,468.9 L114.4,463.4 L114.7,458.8 L115.1,470.3 L115.4,462.1 L115.8,473.8 L116.1,466.0 L116.5,464.9 L116.8,467.4 L117.2,469.9 L117.5,465.9 L117.8,470.2 L118.2,462.9 L118.5,468.7 L118.9,462.5 L119.2,467.7 L119.6,461.0 L119.9,470.0 L120.3,466.5 L120.6,467.1 L121.0,462.0 L121.3,467.7 L121.6,466.2 L122.0,472.1 L122.3,462.2 L122.7,467.8 L123.0,469.5 L123.4,455.2 L123.7,472.9 L124.1,470.1 L124.4,471.6 L124.8,468.6 L125.1,466.0 L125.5,470.4 L125.8,469.7 L126.1,476.4 L126.5,472.5 L126.8,470.6 L127.2,470.1 L127.5,466.1 L127.9,470.5 L128.2,468.7 L128.6,466.7 L128.9,476.9 L129.3,464.5 L129.6,467.5 L129.9,474.6 L130.3,475.5 L130.6,476.0 L131.0,469.1 L131.3,479.6 L131.7,474.7 L132.0,464.5 L132.4,470.0 L132.7,461.6 L133.1,464.7 L133.4,469.4 L133.7,473.2 L134.1,480.1 L134.4,475.9 L134.8,474.3 L135.1,473.6 L135.5,479.4 L135.8,479.3 L136.2,475.8 L136.5,478.2 L136.9,475.7 L137.2,478.3 L137.6,471.0 L137.9,476.7 L138.2,472.3 L138.6,479.1 L138.9,480.4 L139.3,477.8 L139.6,480.2 L140.0,479.9 L140.3,475.6 L140.7,478.1 L141.0,482.6 L141.4,481.3 L141.7,482.7 L142.0,490.8 L142.4,471.0 L142.7,480.8 L143.1,474.1 L143.4,480.7 L143.8,483.5 L144.1,479.8 L144.5,482.9 L144.8,481.2 L145.2,479.1 L145.5,483.1 L145.8,489.7 L146.2,479.4 L146.5,478.2 L146.9,485.6 L147.2,477.6 L147.6,485.3 L147.9,486.1 L148.3,479.2 L148.6,478.9 L149.0,489.7 L149.3,484.3 L149.6,481.6 L150.0,487.9 L150.3,484.8 L150.7,483.0 L151.0,479.1 L151.4,486.8 L151.7,481.3 L152.1,482.8 L152.4,485.2 L152.8,483.2 L153.1,475.1 L153.5,481.6 L153.8,487.2 L154.1,487.0 L154.5,478.7 L154.8,483.8 L155.2,483.1 L155.5,494.2 L155.9,483.6 L156.2,479.6 L156.6,484.5 L156.9,488.6 L157.3,482.0 L157.6,487.7 L157.9,483.8 L158.3,485.0 L158.6,484.8 L159.0,486.6 L159.3,489.7 L159.7,484.2 L160.0,483.6 L160.4,486.1 L160.7,485.5 L161.1,480.6 L161.4,482.2 L161.7,486.7 L162.1,484.4 L162.4,478.9 L162.8,479.8 L163.1,480.6 L163.5,486.8 L163.8,481.6 L164.2,488.1 L164.5,482.1 L164.9,484.9 L165.2,488.6 L165.6,487.9 L165.9,475.8 L166.2,486.8 L166.6,484.9 L166.9,489.9 L167.3,485.2 L167.6,479.8 L168.0,480.4 L168.3,488.3 L168.7,489.3 L169.0,485.6 L169.4,483.6 L169.7,477.2 L170.0,491.6 L170.4,486.8 L170.7,486.2 L171.1,484.0 L171.4,489.7 L171.8,487.6 L172.1,485.0 L172.5,480.6 L172.8,482.9 L173.2,486.6 L173.5,488.3 L173.8,483.3 L174.2,486.5 L174.5,487.9 L174.9,484.1 L175.2,486.8 L175.6,482.1 L175.9,481.2 L176.3,483.2 L176.6,488.3 L177.0,478.3 L177.3,488.1 L177.7,483.9 L178.0,483.9 L178.3,485.9 L178.7,481.0 L179.0,484.7 L179.4,484.1 L179.7,483.0 L180.1,485.3 L180.4,485.5 L180.8,495.0 L181.1,488.0 L181.5,484.4 L181.8,488.0 L182.1,489.2 L182.5,482.0 L182.8,491.8 L183.2,484.9 L183.5,488.2 L183.9,486.6 L184.2,484.4 L184.6,483.3 L184.9,480.9 L185.3,487.9 L185.6,483.8 L185.9,480.2 L186.3,484.0 L186.6,480.6 L187.0,482.1 L187.3,488.9 L187.7,487.4 L188.0,483.7 L188.4,486.0 L188.7,488.4 L189.1,488.2 L189.4,471.5 L189.7,478.0 L190.1,484.2 L190.4,485.1 L190.8,487.8 L191.1,485.7 L191.5,486.0 L191.8,485.5 L192.2,489.7 L192.5,484.7 L192.9,482.1 L193.2,489.3 L193.6,487.4 L193.9,482.6 L194.2,482.9 L194.6,485.4 L194.9,486.4 L195.3,484.9 L195.6,484.1 L196.0,483.5 L196.3,483.5 L196.7,482.2 L197.0,488.8 L197.4,477.8 L197.7,487.1 L198.0,479.4 L198.4,484.3 L198.7,490.6 L199.1,479.3 L199.4,486.1 L199.8,481.0 L200.1,485.9 L200.5,485.0 L200.8,486.2 L201.2,489.8 L201.5,474.2 L201.8,480.9 L202.2,497.3 L202.5,488.2 L202.9,495.4 L203.2,484.5 L203.6,491.3 L203.9,481.3 L204.3,488.9 L204.6,484.0 L205.0,493.8 L205.3,490.5 L205.7,481.6 L206.0,479.3 L206.3,489.0 L206.7,491.8 L207.0,498.3 L207.4,483.6 L207.7,479.2 L208.1,494.6 L208.4,475.2 L208.8,489.6 L209.1,485.8 L209.5,489.5 L209.8,484.9 L210.1,491.2 L210.5,489.1 L210.8,490.5 L211.2,488.8 L211.5,487.7 L211.9,492.2 L212.2,493.4 L212.6,486.3 L212.9,491.5 L213.3,485.2 L213.6,496.6 L213.9,482.9 L214.3,484.5 L214.6,486.9 L215.0,490.5 L215.3,489.8 L215.7,487.1 L216.0,489.6 L216.4,483.8 L216.7,498.9 L217.1,487.4 L217.4,490.1 L217.7,497.5 L218.1,486.0 L218.4,488.9 L218.8,484.0 L219.1,488.0 L219.5,493.5 L219.8,487.3 L220.2,492.9 L220.5,491.6 L220.9,488.6 L221.2,487.2 L221.6,486.1 L221.9,486.7 L222.2,489.2 L222.6,493.0 L222.9,488.7 L223.3,493.4 L223.6,493.2 L224.0,489.7 L224.3,484.8 L224.7,494.6 L225.0,487.0 L225.4,494.9 L225.7,493.0 L226.0,496.8 L226.4,484.9 L226.7,504.0 L227.1,494.6 L227.4,487.5 L227.8,492.8 L228.1,487.3 L228.5,485.8 L228.8,488.3 L229.2,483.2 L229.5,496.3 L229.8,483.5 L230.2,494.6 L230.5,488.1 L230.9,492.3 L231.2,491.8 L231.6,489.0 L231.9,495.4 L232.3,488.6 L232.6,492.7 L233.0,489.6 L233.3,490.9 L233.7,505.0 L234.0,492.7 L234.3,491.4 L234.7,489.1 L235.0,490.5 L235.4,484.4 L235.7,481.9 L236.1,491.5 L236.4,492.3 L236.8,485.6 L237.1,498.4 L237.5,492.7 L237.8,491.8 L238.1,492.6 L238.5,496.7 L238.8,490.2 L239.2,496.0 L239.5,485.4 L239.9,476.7 L240.2,508.2 L240.6,492.4 L240.9,487.8 L241.3,489.8 L241.6,491.4 L241.9,502.8 L242.3,494.5 L242.6,493.1 L243.0,491.4 L243.3,494.7 L243.7,495.5 L244.0,485.0 L244.4,490.4 L244.7,489.2 L245.1,492.9 L245.4,491.4 L245.7,484.8 L246.1,499.2 L246.4,509.9 L246.8,494.8 L247.1,493.4 L247.5,495.2 L247.8,497.1 L248.2,495.8 L248.5,486.1 L248.9,496.8 L249.2,491.2 L249.6,491.1 L249.9,491.9 L250.2,485.4 L250.6,491.7 L250.9,508.8 L251.3,488.3 L251.6,489.3 L252.0,493.0 L252.3,488.6 L252.7,490.0 L253.0,494.8 L253.4,504.1 L253.7,489.6 L254.0,498.8 L254.4,505.7 L254.7,497.9 L255.1,493.4 L255.4,493.5 L255.8,491.8 L256.1,498.9 L256.5,495.7 L256.8,497.1 L257.2,497.6 L257.5,492.0 L257.8,491.5 L258.2,507.2 L258.5,491.6 L258.9,495.0 L259.2,495.2 L259.6,490.5 L259.9,495.1 L260.3,493.6 L260.6,493.3 L261.0,490.7 L261.3,500.4 L261.7,493.9 L262.0,497.7 L262.3,496.4 L262.7,492.8 L263.0,495.1 L263.4,492.4 L263.7,490.7 L264.1,492.8 L264.4,493.3 L264.8,494.4 L265.1,494.5 L265.5,500.9 L265.8,500.2 L266.1,491.8 L266.5,495.7 L266.8,498.4 L267.2,500.0 L267.5,495.0 L267.9,491.4 L268.2,493.2 L268.6,500.3 L268.9,504.7 L269.3,485.5 L269.6,493.1 L269.9,492.2 L270.3,499.7 L270.6,494.2 L271.0,492.7 L271.3,494.2 L271.7,492.6 L272.0,493.6 L272.4,493.7 L272.7,495.6 L273.1,495.7 L273.4,491.0 L273.8,492.5 L274.1,501.9 L274.4,505.4 L274.8,498.1 L275.1,498.3 L275.5,495.6 L275.8,494.5 L276.2,500.9 L276.5,497.8 L276.9,502.1 L277.2,496.1 L277.6,499.9 L277.9,494.2 L278.2,499.5 L278.6,497.5 L278.9,497.7 L279.3,497.8 L279.6,505.3 L280.0,500.3 L280.3,501.0 L280.7,502.2 L281.0,498.9 L281.4,500.8 L281.7,494.1 L282.0,493.4 L282.4,496.0 L282.7,502.1 L283.1,494.2 L283.4,498.0 L283.8,496.4 L284.1,506.5 L284.5,495.8 L284.8,503.9 L285.2,494.4 L285.5,495.1 L285.8,499.7 L286.2,502.1 L286.5,489.5 L286.9,492.6 L287.2,493.3 L287.6,494.5 L287.9,495.2 L288.3,493.8 L288.6,488.3 L289.0,491.8 L289.3,491.3 L289.7,497.0 L290.0,500.4 L290.3,499.3 L290.7,496.7 L291.0,492.5 L291.4,494.2 L291.7,495.4 L292.1,496.7 L292.4,498.9 L292.8,498.9 L293.1,504.5 L293.5,488.9 L293.8,500.4 L294.1,499.2 L294.5,497.3 L294.8,496.3 L295.2,505.0 L295.5,496.7 L295.9,498.6 L296.2,498.3 L296.6,498.4 L296.9,495.7 L297.3,505.6 L297.6,496.7 L297.9,487.4 L298.3,498.6 L298.6,498.2 L299.0,488.3 L299.3,499.0 L299.7,498.5 L300.0,501.7 L300.4,498.8 L300.7,487.4 L301.1,495.0 L301.4,495.2 L301.8,497.3 L302.1,493.3 L302.4,497.4 L302.8,495.9 L303.1,496.6 L303.5,488.3 L303.8,491.0 L304.2,498.2 L304.5,495.0 L304.9,503.2 L305.2,489.5 L305.6,490.0 L305.9,503.1 L306.2,502.1 L306.6,498.6 L306.9,486.4 L307.3,494.9 L307.6,498.3 L308.0,496.8 L308.3,496.3 L308.7,496.7 L309.0,495.7 L309.4,495.2 L309.7,496.8 L310.0,496.1 L310.4,500.1 L310.7,494.3 L311.1,503.8 L311.4,497.4 L311.8,496.4 L312.1,497.1 L312.5,498.6 L312.8,495.9 L313.2,494.9 L313.5,500.9 L313.8,497.8 L314.2,495.3 L314.5,499.2 L314.9,505.1 L315.2,499.1 L315.6,496.8 L315.9,491.1 L316.3,496.9 L316.6,495.1 L317.0,492.5 L317.3,490.7 L317.7,495.3 L318.0,491.6 L318.3,491.9 L318.7,494.6 L319.0,499.8 L319.4,496.3 L319.7,490.9 L320.1,495.2 L320.4,500.4 L320.8,493.0 L321.1,496.7 L321.5,498.4 L321.8,494.6 L322.1,490.2 L322.5,491.1 L322.8,495.8 L323.2,492.5 L323.5,498.8 L323.9,492.9 L324.2,496.2 L324.6,486.1 L324.9,498.7 L325.3,489.4 L325.6,489.6 L325.9,496.4 L326.3,491.2 L326.6,491.3 L327.0,499.3 L327.3,489.6 L327.7,489.9 L328.0,491.3 L328.4,498.0 L328.7,490.6 L329.1,493.4 L329.4,487.3 L329.8,483.1 L330.1,491.2 L330.4,493.3 L330.8,495.7 L331.1,498.4 L331.5,492.1 L331.8,493.2 L332.2,499.1 L332.5,493.9 L332.9,490.0 L333.2,488.0 L333.6,488.2 L333.9,488.7 L334.2,492.0 L334.6,500.3 L334.9,497.5 L335.3,497.8 L335.6,500.6 L336.0,498.2 L336.3,503.8 L336.7,506.3 L337.0,499.7 L337.4,494.6 L337.7,488.9 L338.0,489.4 L338.4,490.4 L338.7,491.1 L339.1,488.9 L339.4,489.4 L339.8,485.0 L340.1,490.1 L340.5,490.9 L340.8,489.0 L341.2,492.2 L341.5,487.1 L341.8,485.2 L342.2,492.2 L342.5,487.6 L342.9,487.5 L343.2,486.1 L343.6,492.6 L343.9,493.6 L344.3,500.8 L344.6,499.8 L345.0,498.2 L345.3,489.1 L345.7,494.0 L346.0,483.4 L346.3,490.7 L346.7,484.5 L347.0,484.5 L347.4,484.5 L347.7,488.3 L348.1,491.7 L348.4,484.7 L348.8,480.1 L349.1,482.2 L349.5,482.8 L349.8,489.1 L350.1,491.0 L350.5,485.3 L350.8,482.9 L351.2,487.9 L351.5,488.5 L351.9,479.7 L352.2,476.3 L352.6,477.2 L352.9,476.9 L353.3,476.7 L353.6,475.8 L353.9,472.8 L354.3,480.5 L354.6,479.4 L355.0,481.7 L355.3,482.4 L355.7,488.4 L356.0,483.4 L356.4,487.0 L356.7,492.8 L357.1,498.8 L357.4,485.8 L357.8,479.4 L358.1,476.4 L358.4,479.9 L358.8,476.7 L359.1,477.4 L359.5,480.9 L359.8,480.1 L360.2,480.0 L360.5,474.1 L360.9,467.5 L361.2,479.1 L361.6,481.9 L361.9,481.4 L362.2,481.4 L362.6,478.6 L362.9,476.6 L363.3,471.7 L363.6,470.7 L364.0,472.5 L364.3,474.9 L364.7,477.9 L365.0,476.8 L365.4,477.3 L365.7,476.8 L366.0,478.2 L366.4,475.4 L366.7,482.4 L367.1,481.0 L367.4,477.7 L367.8,481.0 L368.1,482.3 L368.5,480.1 L368.8,473.8 L369.2,474.7 L369.5,484.9 L369.9,485.2 L370.2,475.6 L370.5,483.9 L370.9,481.7 L371.2,480.9 L371.6,482.1 L371.9,486.5 L372.3,485.9 L372.6,488.7 L373.0,491.6 L373.3,499.0 L373.7,489.4 L374.0,488.4 L374.3,489.5 L374.7,487.5 L375.0,490.4 L375.4,494.2 L375.7,486.1 L376.1,487.3 L376.4,488.3 L376.8,487.1 L377.1,480.2 L377.5,487.6 L377.8,490.4 L378.1,479.4 L378.5,475.2 L378.8,475.4 L379.2,479.3 L379.5,480.4 L379.9,479.9 L380.2,475.9 L380.6,472.7 L380.9,476.2 L381.3,478.2 L381.6,472.1 L381.9,474.5 L382.3,470.1 L382.6,468.9 L383.0,472.6 L383.3,474.2 L383.7,475.2 L384.0,477.0 L384.4,473.4 L384.7,474.6 L385.1,476.4 L385.4,474.2 L385.8,467.4 L386.1,471.0 L386.4,470.8 L386.8,472.2 L387.1,473.6 L387.5,477.8 L387.8,473.0 L388.2,468.1 L388.5,466.3 L388.9,471.7 L389.2,468.5 L389.6,463.2 L389.9,456.0 L390.2,475.3 L390.6,476.1 L390.9,471.1 L391.3,474.3 L391.6,470.0 L392.0,480.0 L392.3,481.4 L392.7,482.5 L393.0,472.7 L393.4,478.1 L393.7,477.4 L394.0,477.0 L394.4,480.9 L394.7,479.3 L395.1,476.5 L395.4,475.4 L395.8,469.2 L396.1,472.5 L396.5,468.0 L396.8,465.0 L397.2,463.1 L397.5,463.5 L397.9,467.2 L398.2,462.6 L398.5,475.3 L398.9,475.3 L399.2,469.6 L399.6,464.2 L399.9,459.9 L400.3,459.3 L400.6,472.1 L401.0,471.1 L401.3,457.1 L401.7,458.5 L402.0,463.1 L402.3,463.3 L402.7,463.3 L403.0,455.1 L403.4,453.3 L403.7,459.6 L404.1,458.1 L404.4,471.5 L404.8,455.3 L405.1,458.6 L405.5,458.6 L405.8,459.2 L406.1,462.0 L406.5,464.2 L406.8,464.5 L407.2,473.1 L407.5,474.7 L407.9,471.8 L408.2,471.2 L408.6,465.4 L408.9,460.3 L409.3,459.4 L409.6,459.4 L409.9,460.8 L410.3,461.6 L410.6,469.9 L411.0,468.2 L411.3,463.9 L411.7,466.3 L412.0,474.7 L412.4,463.1 L412.7,461.9 L413.1,463.5 L413.4,464.0 L413.8,456.8 L414.1,457.1 L414.4,459.9 L414.8,455.1 L415.1,452.0 L415.5,441.7 L415.8,442.4 L416.2,450.0 L416.5,455.2 L416.9,459.9 L417.2,466.8 L417.6,458.5 L417.9,457.2 L418.2,449.1 L418.6,455.0 L418.9,457.9 L419.3,457.0 L419.6,458.7 L420.0,452.3 L420.3,453.3 L420.7,452.9 L421.0,455.7 L421.4,459.9 L421.7,461.5 L422.0,465.5 L422.4,463.3 L422.7,465.9 L423.1,457.4 L423.4,458.6 L423.8,461.8 L424.1,450.3 L424.5,451.8 L424.8,450.2 L425.2,448.3 L425.5,449.5 L425.9,452.9 L426.2,450.7 L426.5,445.7 L426.9,439.0 L427.2,443.5 L427.6,444.1 L427.9,452.5 L428.3,453.9 L428.6,456.0 L429.0,457.3 L429.3,439.0 L429.7,445.9 L430.0,450.3 L430.3,443.5 L430.7,442.8 L431.0,441.5 L431.4,441.7 L431.7,449.4 L432.1,449.9 L432.4,451.3 L432.8,447.6 L433.1,446.7 L433.5,447.3 L433.8,441.7 L434.1,444.0 L434.5,438.9 L434.8,449.2 L435.2,449.0 L435.5,439.6 L435.9,443.0 L436.2,449.7 L436.6,444.2 L436.9,436.4 L437.3,437.0 L437.6,435.0 L437.9,440.5 L438.3,441.6 L438.6,445.1 L439.0,438.2 L439.3,434.9 L439.7,439.5 L440.0,453.4 L440.4,454.7 L440.7,450.4 L441.1,449.2 L441.4,450.4 L441.8,439.6 L442.1,450.3 L442.4,449.0 L442.8,439.7 L443.1,437.4 L443.5,431.9 L443.8,429.4 L444.2,421.1 L444.5,423.7 L444.9,440.3 L445.2,439.4 L445.6,446.2 L445.9,436.8 L446.2,438.5 L446.6,446.7 L446.9,454.8 L447.3,449.3 L447.6,446.7 L448.0,449.5 L448.3,442.2 L448.7,437.3 L449.0,439.5 L449.4,446.5 L449.7,443.1 L450.0,452.9 L450.4,445.5 L450.7,447.9 L451.1,471.0 L451.4,440.9 L451.8,435.3 L452.1,433.4 L452.5,442.9 L452.8,436.6 L453.2,432.3 L453.5,440.6 L453.9,418.8 L454.2,436.7 L454.5,435.4 L454.9,428.6 L455.2,427.0 L455.6,436.7 L455.9,446.3 L456.3,448.5 L456.6,444.7 L457.0,437.9 L457.3,431.6 L457.7,433.0 L458.0,432.5 L458.3,436.5 L458.7,443.9 L459.0,440.6 L459.4,435.0 L459.7,432.0 L460.1,432.0 L460.4,427.5 L460.8,429.6 L461.1,435.4 L461.5,437.6 L461.8,436.4 L462.1,433.5 L462.5,428.6 L462.8,421.2 L463.2,427.0 L463.5,434.9 L463.9,439.9 L464.2,440.8 L464.6,431.7 L464.9,422.0 L465.3,435.8 L465.6,435.2 L466.0,438.9 L466.3,435.9 L466.6,428.7 L467.0,429.7 L467.3,434.7 L467.7,430.8 L468.0,429.1 L468.4,424.4 L468.7,427.1 L469.1,431.3 L469.4,427.7 L469.8,427.7 L470.1,425.7 L470.4,424.6 L470.8,427.8 L471.1,434.3 L471.5,424.4 L471.8,426.3 L472.2,433.7 L472.5,438.5 L472.9,436.1 L473.2,430.1 L473.6,422.3 L473.9,419.5 L474.2,424.9 L474.6,423.5 L474.9,423.6 L475.3,418.1 L475.6,418.5 L476.0,423.8 L476.3,427.3 L476.7,432.0 L477.0,426.2 L477.4,411.2 L477.7,428.5 L478.0,435.4 L478.4,430.0 L478.7,426.9 L479.1,420.0 L479.4,433.2 L479.8,438.4 L480.1,433.3 L480.5,423.6 L480.8,433.3 L481.2,436.3 L481.5,446.2 L481.9,448.9 L482.2,443.5 L482.5,461.0 L482.9,442.4 L483.2,434.3 L483.6,433.5 L483.9,439.0 L484.3,442.4 L484.6,438.1 L485.0,418.8 L485.3,440.7 L485.7,431.3 L486.0,420.7 L486.3,428.0 L486.7,434.2 L487.0,431.2 L487.4,428.8 L487.7,434.5 L488.1,438.0 L488.4,432.5 L488.8,426.6 L489.1,420.6 L489.5,422.1 L489.8,425.4 L490.1,429.8 L490.5,433.3 L490.8,431.5 L491.2,432.9 L491.5,447.9 L491.9,439.3 L492.2,440.8 L492.6,442.8 L492.9,450.3 L493.3,459.8 L493.6,456.6 L494.0,440.9 L494.3,433.2 L494.6,434.0 L495.0,427.1 L495.3,429.6 L495.7,437.1 L496.0,444.6 L496.4,439.3 L496.7,434.8 L497.1,439.1 L497.4,440.3 L497.8,439.9 L498.1,440.7 L498.4,440.4 L498.8,436.8 L499.1,436.5 L499.5,449.8 L499.8,451.4 L500.2,432.7 L500.5,430.1 L500.9,428.2 L501.2,431.8 L501.6,431.8 L501.9,436.7 L502.2,436.8 L502.6,428.0 L502.9,422.6 L503.3,429.7 L503.6,431.9 L504.0,430.0 L504.3,435.5 L504.7,439.8 L505.0,435.8 L505.4,435.1 L505.7,430.1 L506.0,434.9 L506.4,446.2 L506.7,449.4 L507.1,431.8 L507.4,444.6 L507.8,453.6 L508.1,449.6 L508.5,440.9 L508.8,439.1 L509.2,438.9 L509.5,434.7 L509.9,438.3 L510.2,429.5 L510.5,436.6 L510.9,448.2 L511.2,441.5 L511.6,439.7 L511.9,436.1 L512.3,443.0 L512.6,440.1 L513.0,440.2 L513.3,432.3 L513.7,429.0 L514.0,438.0 L514.3,445.3 L514.7,451.2 L515.0,448.1 L515.4,443.5 L515.7,431.6 L516.1,435.1 L516.4,447.6 L516.8,444.1 L517.1,440.0 L517.5,444.3 L517.8,441.6 L518.1,441.9 L518.5,441.0 L518.8,415.0 L519.2,443.4 L519.5,446.0 L519.9,456.0 L520.2,450.4 L520.6,447.7 L520.9,448.0 L521.3,444.1 L521.6,438.0 L522.0,447.6 L522.3,443.4 L522.6,438.0 L523.0,432.9 L523.3,435.1 L523.7,445.4 L524.0,454.3 L524.4,447.8 L524.7,438.7 L525.1,434.9 L525.4,433.9 L525.8,445.3 L526.1,473.8 L526.4,454.3 L526.8,451.8 L527.1,451.1 L527.5,458.5 L527.8,454.8 L528.2,443.8 L528.5,441.2 L528.9,430.2 L529.2,437.6 L529.6,451.2 L529.9,448.9 L530.2,437.7 L530.6,439.2 L530.9,423.8 L531.3,445.3 L531.6,443.5 L532.0,443.8 L532.3,447.5 L532.7,445.0 L533.0,448.2 L533.4,452.9 L533.7,453.3 L534.0,451.3 L534.4,445.1 L534.7,453.1 L535.1,454.9 L535.4,453.4 L535.8,452.8 L536.1,441.8 L536.5,440.5 L536.8,451.1 L537.2,453.8 L537.5,454.5 L537.9,451.4 L538.2,442.0 L538.5,448.1 L538.9,457.7 L539.2,444.7 L539.6,434.0 L539.9,436.4 L540.3,442.3 L540.6,437.7 L541.0,439.4 L541.3,442.0 L541.7,437.9 L542.0,429.7 L542.3,446.4 L542.7,458.5 L543.0,439.5 L543.4,437.0 L543.7,435.2 L544.1,439.0 L544.4,444.5 L544.8,451.4 L545.1,450.6 L545.5,449.8 L545.8,442.3 L546.1,457.7 L546.5,465.6 L546.8,458.6 L547.2,456.2 L547.5,450.5 L547.9,438.6 L548.2,435.5 L548.6,442.4 L548.9,459.1 L549.3,456.1 L549.6,458.4 L550.0,462.2 L550.3,456.5 L550.6,447.9 L551.0,444.1 L551.3,450.3 L551.7,440.9 L552.0,440.5 L552.4,432.0 L552.7,433.4 L553.1,437.7 L553.4,450.8 L553.8,461.9 L554.1,459.8 L554.4,449.0 L554.8,448.9 L555.1,448.1 L555.5,451.0 L555.8,458.1 L556.2,464.5 L556.5,465.5 L556.9,468.3 L557.2,456.5 L557.6,439.9 L557.9,442.4 L558.2,444.6 L558.6,439.5 L558.9,434.2 L559.3,439.4 L559.6,440.3 L560.0,441.3 L560.3,455.3 L560.7,459.7 L561.0,454.9 L561.4,450.9 L561.7,451.9 L562.1,452.9 L562.4,454.1 L562.7,455.2 L563.1,454.9 L563.4,449.4 L563.8,481.0 L564.1,457.9 L564.5,468.7 L564.8,459.6 L565.2,454.7 L565.5,457.3 L565.9,463.1 L566.2,468.2 L566.5,461.7 L566.9,452.5 L567.2,450.7 L567.6,447.9 L567.9,451.6 L568.3,458.8 L568.6,467.5 L569.0,470.7 L569.3,465.0 L569.7,466.9 L570.0,480.8 L570.3,460.6 L570.7,451.6 L571.0,467.5 L571.4,469.2 L571.7,464.2 L572.1,461.0 L572.4,455.7 L572.8,452.9 L573.1,446.6 L573.5,446.9 L573.8,453.0 L574.1,451.7 L574.5,447.5 L574.8,453.1 L575.2,451.8 L575.5,458.0 L575.9,486.0 L576.2,446.3 L576.6,462.4 L576.9,471.7 L577.3,464.2 L577.6,458.8 L578.0,463.1 L578.3,461.1 L578.6,451.5 L579.0,452.5 L579.3,457.3 L579.7,459.8 L580.0,431.0 L580.4,457.2 L580.7,455.8 L581.1,455.9 L581.4,455.8 L581.8,461.9 L582.1,465.2 L582.4,467.7 L582.8,468.3 L583.1,458.7 L583.5,460.1 L583.8,466.4 L584.2,469.1 L584.5,473.1 L584.9,470.7 L585.2,467.3 L585.6,460.5 L585.9,467.7 L586.2,471.9 L586.6,460.8 L586.9,458.6 L587.3,467.2 L587.6,470.1 L588.0,460.2 L588.3,451.9 L588.7,443.6 L589.0,452.3 L589.4,455.1 L589.7,457.7 L590.1,438.8 L590.4,454.5 L590.7,455.8 L591.1,459.6 L591.4,452.6 L591.8,452.2 L592.1,454.5 L592.5,461.7 L592.8,459.8 L593.2,469.8 L593.5,469.4 L593.9,468.8 L594.2,465.9 L594.5,464.7 L594.9,460.9 L595.2,464.7 L595.6,459.2 L595.9,462.0 L596.3,465.4 L596.6,463.2 L597.0,462.3 L597.3,463.3 L597.7,469.0 L598.0,474.3 L598.3,481.5 L598.7,478.8 L599.0,479.8 L599.4,476.5 L599.7,476.2 L600.1,472.1 L600.4,468.8 L600.8,471.5 L601.1,480.8 L601.5,478.8 L601.8,479.9 L602.1,491.2 L602.5,493.7 L602.8,469.7 L603.2,460.7 L603.5,467.6 L603.9,461.7 L604.2,459.9 L604.6,469.6 L604.9,475.1 L605.3,472.7 L605.6,466.6 L606.0,460.4 L606.3,462.7 L606.6,470.6 L607.0,476.0 L607.3,471.9 L607.7,468.6 L608.0,470.9 L608.4,473.0 L608.7,467.4 L609.1,469.1 L609.4,462.4 L609.8,457.5 L610.1,453.8 L610.4,454.9 L610.8,464.2 L611.1,472.7 L611.5,479.5 L611.8,480.4 L612.2,476.0 L612.5,475.7 L612.9,472.3 L613.2,473.5 L613.6,479.6 L613.9,472.6 L614.2,472.0 L614.6,475.7 L614.9,474.4 L615.3,478.2 L615.6,473.8 L616.0,468.9 L616.3,472.2 L616.7,478.5 L617.0,476.0 L617.4,479.1 L617.7,480.5 L618.1,479.8 L618.4,472.4 L618.7,471.0 L619.1,476.7 L619.4,487.5 L619.8,476.7 L620.1,477.5 L620.5,473.3 L620.8,483.3 L621.2,485.9 L621.5,485.1 L621.9,481.3 L622.2,474.3 L622.5,478.2 L622.9,484.1 L623.2,475.2 L623.6,470.3 L623.9,500.0 L624.3,479.6 L624.6,479.2 L625.0,492.9 L625.3,494.7 L625.7,501.0 L626.0,505.3 L626.3,489.9 L626.7,472.2 L627.0,475.0 L627.4,475.4 L627.7,478.0 L628.1,481.3 L628.4,499.7 L628.8,489.9 L629.1,480.9 L629.5,491.4 L629.8,493.2 L630.1,490.9 L630.5,486.8 L630.8,493.8 L631.2,493.0 L631.5,482.9 L631.9,488.6 L632.2,500.1 L632.6,498.3 L632.9,495.4 L633.3,490.7 L633.6,493.1 L634.0,486.3 L634.3,475.0 L634.6,482.8 L635.0,484.5 L635.3,491.1 L635.7,486.7 L636.0,458.8 L636.4,479.1 L636.7,486.2 L637.1,491.7 L637.4,492.0 L637.8,487.8 L638.1,487.3 L638.4,489.4 L638.8,512.5 L639.1,489.9 L639.5,480.4 L639.8,475.0 L640.2,479.6 L640.5,488.2 L640.9,493.8 L641.2,501.3 L641.6,503.0 L641.9,495.0 L642.2,490.5 L642.6,487.4 L642.9,485.2 L643.3,498.7 L643.6,503.3 L644.0,507.8 L644.3,510.4 L644.7,500.6 L645.0,495.1 L645.4,487.4 L645.7,494.1 L646.1,496.6 L646.4,502.0 L646.7,497.2 L647.1,494.7 L647.4,494.2 L647.8,494.0 L648.1,493.4 L648.5,489.0 L648.8,493.6 L649.2,498.3 L649.5,492.8 L649.9,491.3 L650.2,495.9 L650.5,491.6 L650.9,494.3 L651.2,497.5 L651.6,495.9 L651.9,493.8 L652.3,491.8 L652.6,496.8 L653.0,489.9 L653.3,495.2 L653.7,495.1 L654.0,492.7 L654.3,488.7 L654.7,486.4 L655.0,492.4 L655.4,494.6 L655.7,492.8 L656.1,502.4 L656.4,500.5 L656.8,504.6 L657.1,501.2 L657.5,503.5 L657.8,505.7 L658.2,500.3 L658.5,495.8 L658.8,505.2 L659.2,506.8 L659.5,502.9 L659.9,498.4 L660.2,498.1 L660.6,496.2 L660.9,523.8 L661.3,488.1 L661.6,477.7 L662.0,491.2 L662.3,498.0 L662.6,497.4 L663.0,498.8 L663.3,501.2 L663.7,503.3 L664.0,502.7 L664.4,503.3 L664.7,498.9 L665.1,504.2 L665.4,508.5 L665.8,502.9 L666.1,500.7 L666.4,495.9 L666.8,505.6 L667.1,515.6 L667.5,506.3 L667.8,506.5 L668.2,503.8 L668.5,505.0 L668.9,505.4 L669.2,502.9 L669.6,501.0 L669.9,498.4 L670.2,504.3 L670.6,507.5 L670.9,506.9 L671.3,499.4 L671.6,505.6 L672.0,519.8 L672.3,520.0 L672.7,509.2 L673.0,509.3 L673.4,499.1 L673.7,510.7 L674.1,519.2 L674.4,521.0 L674.7,520.2 L675.1,507.3 L675.4,502.8 L675.8,506.9 L676.1,506.9 L676.5,507.3 L676.8,508.9 L677.2,502.3 L677.5,503.3 L677.9,504.6 L678.2,506.5 L678.5,509.6 L678.9,512.6 L679.2,520.8 L679.6,507.5 L679.9,510.7 L680.3,512.6 L680.6,508.8 L681.0,501.0 L681.3,495.3 L681.7,499.6 L682.0,507.5 L682.3,522.1 L682.7,524.8 L683.0,520.2 L683.4,509.5 L683.7,527.5 L684.1,507.3 L684.4,513.6 L684.8,520.2 L685.1,526.9 L685.5,506.8 L685.8,499.2 L686.2,502.4 L686.5,508.5 L686.8,506.1 L687.2,503.8 L687.5,505.1 L687.9,503.6 L688.2,499.1 L688.6,509.3 L688.9,513.3 L689.3,504.5 L689.6,501.0 L690.0,509.3 L690.3,516.2 L690.6,508.9 L691.0,507.3 L691.3,520.3 L691.7,518.8 L692.0,515.3 L692.4,509.6 L692.7,503.4 L693.1,496.1 L693.4,495.1 L693.8,506.1 L694.1,517.7 L694.4,512.6 L694.8,521.1 L695.1,526.1 L695.5,524.5 L695.8,516.6 L696.2,513.1 L696.5,511.2 L696.9,529.3 L697.2,522.5 L697.6,508.2 L697.9,514.3 L698.2,522.1 L698.6,520.3 L698.9,520.3 L699.3,504.2 L699.6,506.8 L700.0,515.2 L700.3,519.3 L700.7,512.2 L701.0,523.9 L701.4,519.1 L701.7,511.4 L702.1,512.5 L702.4,501.6 L702.7,506.0 L703.1,516.4 L703.4,523.1 L703.8,527.1 L704.1,527.9 L704.5,527.0 L704.8,522.8 L705.2,510.2 L705.5,529.0 L705.9,527.0 L706.2,516.6 L706.5,513.9 L706.9,530.0 L707.2,524.1 L707.6,514.6 L707.9,513.5 L708.3,512.0 L708.6,515.5 L709.0,512.7 L709.3,512.0 L709.7,516.4 L710.0,510.8 L710.3,518.9 L710.7,517.8 L711.0,523.6 L711.4,528.9 L711.7,531.5 L712.1,527.2 L712.4,523.9 L712.8,518.8 L713.1,516.9 L713.5,517.5 L713.8,516.3 L714.2,516.3 L714.5,514.1 L714.8,520.1 L715.2,523.5 L715.5,525.3 L715.9,518.3 L716.2,520.0 L716.6,507.7 L716.9,494.3 L717.3,515.8 L717.6,525.7 L718.0,534.9 L718.3,536.7 L718.6,543.8 L719.0,520.2 L719.3,528.6 L719.7,531.1 L720.0,537.6 L720.4,539.9 L720.7,536.0 L721.1,518.2 L721.4,507.8 L721.8,528.8 L722.1,531.4 L722.4,531.3 L722.8,519.9 L723.1,513.9 L723.5,528.5 L723.8,535.4 L724.2,521.8 L724.5,528.1 L724.9,526.4 L725.2,524.0 L725.6,528.5 L725.9,521.6 L726.2,514.2 L726.6,521.7 L726.9,523.2 L727.3,526.4 L727.6,519.4 L728.0,518.4 L728.3,519.0 L728.7,514.3 L729.0,510.3 L729.4,507.6 L729.7,516.0 L730.1,521.6 L730.4,526.8 L730.7,520.9 L731.1,506.3 L731.4,514.2 L731.8,526.7 L732.1,526.4 L732.5,542.5 L732.8,526.4 L733.2,524.1 L733.5,525.0 L733.9,529.1 L734.2,527.9 L734.5,527.4 L734.9,531.4 L735.2,531.2 L735.6,517.3 L735.9,515.5 L736.3,509.1 L736.6,522.8 L737.0,529.0 L737.3,525.0 L737.7,524.7 L738.0,523.9 L738.3,522.8 L738.7,519.2 L739.0,522.6 L739.4,523.2 L739.7,513.5 L740.1,506.0 L740.4,506.7 L740.8,509.0 L741.1,510.7 L741.5,520.4 L741.8,528.7 L742.2,526.4 L742.5,526.0 L742.8,525.5 L743.2,524.7 L743.5,525.4 L743.9,521.2 L744.2,521.0 L744.6,523.0 L744.9,524.5 L745.3,532.8 L745.6,529.2 L746.0,533.3 L746.3,526.7 L746.6,517.3 L747.0,524.2 L747.3,527.4 L747.7,529.8 L748.0,530.5 L748.4,524.6 L748.7,519.6 L749.1,527.7 L749.4,531.1 L749.8,523.4 L750.1,542.5 L750.4,515.0 L750.8,516.1 L751.1,515.3 L751.5,521.2 L751.8,518.4 L752.2,515.8 L752.5,519.0 L752.9,521.5 L753.2,528.8 L753.6,529.4 L753.9,519.7 L754.3,514.7 L754.6,508.7 L754.9,502.5 L755.3,511.9 L755.6,511.5 L756.0,514.4 L756.3,513.0 L756.7,513.3 L757.0,514.0 L757.4,518.5 L757.7,515.9 L758.1,512.8 L758.4,517.7 L758.7,524.5 L759.1,528.9 L759.4,523.9 L759.8,513.7 L760.1,510.4 L760.5,516.9 L760.8,521.7 L761.2,522.0 L761.5,522.8 L761.9,521.8 L762.2,524.4 L762.5,521.0 L762.9,526.3 L763.2,523.4 L763.6,525.2 L763.9,526.4 L764.3,528.2 L764.6,521.1 L765.0,521.3 L765.3,502.7 L765.7,505.9 L766.0,518.8 L766.3,519.3 L766.7,522.6 L767.0,520.6 L767.4,518.3 L767.7,520.7 L768.1,522.9 L768.4,521.5 L768.8,518.1 L769.1,524.1 L769.5,511.9 L769.8,511.1 L770.2,519.0 L770.5,527.8 L770.8,516.9 L771.2,518.0 L771.5,524.3 L771.9,520.2 L772.2,510.8 L772.6,511.5 L772.9,509.2 L773.3,519.4 L773.6,519.9 L774.0,526.6 L774.3,526.5 L774.6,518.6 L775.0,519.4 L775.3,508.8 L775.7,509.3 L776.0,508.2 L776.4,512.8 L776.7,514.6 L777.1,523.2 L777.4,523.3 L777.8,517.8 L778.1,514.9 L778.4,520.9 L778.8,515.2 L779.1,514.3 L779.5,514.7 L779.8,519.8 L780.2,513.3 L780.5,512.3 L780.9,517.8 L781.2,516.9 L781.6,516.9 L781.9,518.0 L782.3,511.4 L782.6,520.3 L782.9,537.3 L783.3,515.8 L783.6,508.8 L784.0,522.8 L784.3,519.6 L784.7,514.2 L785.0,510.6 L785.4,513.4 L785.7,513.0 L786.1,514.2 L786.4,502.0 L786.7,493.2 L787.1,514.4 L787.4,518.2 L787.8,510.2 L788.1,511.5 L788.5,506.0 L788.8,510.4 L789.2,509.6 L789.5,500.7 L789.9,490.0 L790.2,505.9 L790.5,509.2 L790.9,513.0 L791.2,512.8 L791.6,506.1 L791.9,510.1 L792.3,513.7 L792.6,514.3 L793.0,514.2 L793.3,516.2 L793.7,517.2 L794.0,509.7 L794.3,510.0 L794.7,500.9 L795.0,502.2 L795.4,511.9 L795.7,508.5 L796.1,505.2 L796.4,513.9 L796.8,513.7 L797.1,512.5 L797.5,510.5 L797.8,513.8 L798.2,499.4 L798.5,500.2 L798.8,490.5 L799.2,492.0 L799.5,497.3 L799.9,501.8 L800.2,498.2 L800.6,505.8 L800.9,517.8 L801.3,509.5 L801.6,511.8 L802.0,509.7 L802.3,509.6 L802.6,507.6 L803.0,506.2 L803.3,501.9 L803.7,506.7 L804.0,503.9 L804.4,497.7 L804.7,493.7 L805.1,506.1 L805.4,513.4 L805.8,508.6 L806.1,499.1 L806.4,492.4 L806.8,495.4 L807.1,504.0 L807.5,507.4 L807.8,512.0 L808.2,508.4 L808.5,498.8 L808.9,495.3 L809.2,497.7 L809.6,504.8 L809.9,495.1 L810.3,488.1 L810.6,495.5 L810.9,506.1 L811.3,506.4 L811.6,501.6 L812.0,494.9 L812.3,486.0 L812.7,485.4 L813.0,492.9 L813.4,494.8 L813.7,497.8 L814.1,499.7 L814.4,492.8 L814.7,491.7 L815.1,492.7 L815.4,499.9 L815.8,501.7 L816.1,503.7 L816.5,512.6 L816.8,493.1 L817.2,493.6 L817.5,487.6 L817.9,500.3 L818.2,502.5 L818.5,500.0 L818.9,487.0 L819.2,480.1 L819.6,474.1 L819.9,491.7 L820.3,501.9 L820.6,500.5 L821.0,487.9 L821.3,471.7 L821.7,475.1 L822.0,492.9 L822.3,493.4 L822.7,483.7 L823.0,483.7 L823.4,493.0 L823.7,488.5 L824.1,496.3 L824.4,508.9 L824.8,505.5 L825.1,496.4 L825.5,494.1 L825.8,489.4 L826.2,491.8 L826.5,495.0 L826.8,497.4 L827.2,496.8 L827.5,496.4 L827.9,494.5 L828.2,491.8 L828.6,484.5 L828.9,467.5 L829.3,482.7 L829.6,476.9 L830.0,482.3 L830.3,481.1 L830.6,489.5 L831.0,505.0 L831.3,483.4 L831.7,487.2 L832.0,491.8 L832.4,478.0 L832.7,468.8 L833.1,478.1 L833.4,489.8 L833.8,493.5 L834.1,494.7 L834.4,486.9 L834.8,483.7 L835.1,478.1 L835.5,476.0 L835.8,475.2 L836.2,479.0 L836.5,478.0 L836.9,480.3 L837.2,476.0 L837.6,476.0 L837.9,468.7 L838.3,463.1 L838.6,470.5 L838.9,473.7 L839.3,472.7 L839.6,479.1 L840.0,481.2 L840.3,484.8 L840.7,476.6 L841.0,468.7 L841.4,457.8 L841.7,469.2 L842.1,478.4 L842.4,469.4 L842.7,467.9 L843.1,471.5 L843.4,471.5 L843.8,476.3 L844.1,479.2 L844.5,471.6 L844.8,473.7 L845.2,478.3 L845.5,483.3 L845.9,493.9 L846.2,482.3 L846.5,479.2 L846.9,471.7 L847.2,476.5 L847.6,487.6 L847.9,473.5 L848.3,453.9 L848.6,463.3 L849.0,463.8 L849.3,469.9 L849.7,467.9 L850.0,468.7 L850.4,466.0 L850.7,470.4 L851.0,463.3 L851.4,456.9 L851.7,456.9 L852.1,458.0 L852.4,460.0 L852.8,464.8 L853.1,466.1 L853.5,459.5 L853.8,449.0 L854.2,461.4 L854.5,462.4 L854.8,480.0 L855.2,458.9 L855.5,461.5 L855.9,466.0 L856.2,456.6 L856.6,462.0 L856.9,464.6 L857.3,457.1 L857.6,457.3 L858.0,465.2 L858.3,466.0 L858.6,464.0 L859.0,463.1 L859.3,469.4 L859.7,459.9 L860.0,446.5 L860.4,453.4 L860.7,466.9 L861.1,458.1 L861.4,455.5 L861.8,456.2 L862.1,457.8 L862.4,457.1 L862.8,453.3 L863.1,457.2 L863.5,457.1 L863.8,449.1 L864.2,444.3 L864.5,442.7 L864.9,446.4 L865.2,451.5 L865.6,457.6 L865.9,451.2 L866.3,451.6 L866.6,444.6 L866.9,444.5 L867.3,452.9 L867.6,460.6 L868.0,451.2 L868.3,439.6 L868.7,441.7 L869.0,444.8 L869.4,447.4 L869.7,445.7 L870.1,443.0 L870.4,445.3 L870.7,444.2 L871.1,448.5 L871.4,445.7 L871.8,434.7 L872.1,438.9 L872.5,445.0 L872.8,444.9 L873.2,442.7 L873.5,445.3 L873.9,442.4 L874.2,440.1 L874.5,438.1 L874.9,440.9 L875.2,447.6 L875.6,443.8 L875.9,446.2 L876.3,438.6 L876.6,441.0 L877.0,443.5 L877.3,437.1 L877.7,435.2 L878.0,443.0 L878.4,444.7 L878.7,439.6 L879.0,435.8 L879.4,441.9 L879.7,437.2 L880.1,440.3 L880.4,438.2 L880.8,435.2 L881.1,434.2 L881.5,432.5 L881.8,429.1 L882.2,433.7 L882.5,428.0 L882.8,426.0 L883.2,431.8 L883.5,439.5 L883.9,439.1 L884.2,430.5 L884.6,424.6 L884.9,426.4 L885.3,426.4 L885.6,433.5 L886.0,430.7 L886.3,428.3 L886.6,424.2 L887.0,420.4 L887.3,410.4 L887.7,425.2 L888.0,438.9 L888.4,428.2 L888.7,430.1 L889.1,433.4 L889.4,433.0 L889.8,431.6 L890.1,429.3 L890.4,428.4 L890.8,433.6 L891.1,440.9 L891.5,424.7 L891.8,415.9 L892.2,424.9 L892.5,420.9 L892.9,426.2 L893.2,428.1 L893.6,434.7 L893.9,428.2 L894.3,426.5 L894.6,427.7 L894.9,438.8 L895.3,426.6 L895.6,423.4 L896.0,420.0 L896.3,412.6 L896.7,425.6 L897.0,425.9 L897.4,432.1 L897.7,432.9 L898.1,430.0 L898.4,430.1 L898.7,423.7 L899.1,418.0 L899.4,419.5 L899.8,430.2 L900.1,431.8 L900.5,423.6 L900.8,420.6 L901.2,419.7 L901.5,417.8 L901.9,421.9 L902.2,413.3 L902.5,413.3 L902.9,409.3 L903.2,415.1 L903.6,420.0 L903.9,425.3 L904.3,428.1 L904.6,422.5 L905.0,422.6 L905.3,421.6 L905.7,421.7 L906.0,415.6 L906.4,414.1 L906.7,414.9 L907.0,412.1 L907.4,414.5 L907.7,415.2 L908.1,414.1 L908.4,420.4 L908.8,413.3 L909.1,426.4 L909.5,431.2 L909.8,429.7 L910.2,436.0 L910.5,425.4 L910.8,425.4 L911.2,425.0 L911.5,418.9 L911.9,411.7 L912.2,418.5 L912.6,415.7 L912.9,410.0 L913.3,411.8 L913.6,417.8 L914.0,423.6 L914.3,428.8 L914.6,419.9 L915.0,417.6 L915.3,412.5 L915.7,416.2 L916.0,417.5 L916.4,414.9 L916.7,407.8 L917.1,419.1 L917.4,429.8 L917.8,418.5 L918.1,418.0 L918.4,407.4 L918.8,412.2 L919.1,418.9 L919.5,419.2 L919.8,417.5 L920.2,411.4 L920.5,406.4 L920.9,415.9 L921.2,417.2 L921.6,414.5 L921.9,413.5 L922.3,416.6 L922.6,414.1 L922.9,412.4 L923.3,411.2 L923.6,405.3 L924.0,411.9 L924.3,410.7 L924.7,409.1 L925.0,409.7 L925.4,413.9 L925.7,408.0 L926.1,410.6 L926.4,409.4 L926.7,410.8 L927.1,405.9 L927.4,409.7 L927.8,419.2 L928.1,419.1 L928.5,418.0 L928.8,413.2 L929.2,402.5 L929.5,404.6 L929.9,406.2 L930.2,413.3 L930.5,417.8 L930.9,412.2 L931.2,413.7 L931.6,419.9 L931.9,420.4 L932.3,414.9 L932.6,420.6 L933.0,420.4 L933.3,417.8 L933.7,416.4 L934.0,411.7 L934.4,393.8 L934.7,410.3 L935.0,416.5 L935.4,418.8 L935.7,410.4 L936.1,411.4 L936.4,407.5 L936.8,406.5 L937.1,407.1 L937.5,406.3 L937.8,413.3 L938.2,418.8 L938.5,423.3 L938.8,415.5 L939.2,412.7 L939.5,419.9 L939.9,418.7 L940.2,403.5 L940.6,405.5 L940.9,408.2 L941.3,411.7 L941.6,402.7 L942.0,405.3 L942.3,408.5 L942.6,415.9 L943.0,416.0 L943.3,418.5 L943.7,414.6 L944.0,412.1 L944.4,409.7 L944.7,409.1 L945.1,407.5 L945.4,404.7 L945.8,412.2 L946.1,400.0 L946.5,415.7 L946.8,417.4 L947.1,425.2 L947.5,417.7 L947.8,414.9 L948.2,415.6 L948.5,414.7 L948.9,415.7 L949.2,418.7 L949.6,414.5 L949.9,412.4 L950.3,413.4 L950.6,415.9 L950.9,430.0 L951.3,422.4 L951.6,413.2 L952.0,415.2 L952.3,414.2 L952.7,407.2 L953.0,408.1 L953.4,416.8 L953.7,415.0 L954.1,406.8 L954.4,414.5 L954.7,417.9 L955.1,408.2 L955.4,413.5 L955.8,416.9 L956.1,423.6 L956.5,421.4 L956.8,415.2 L957.2,404.5 L957.5,411.5 L957.9,413.4 L958.2,415.0 L958.5,419.8 L958.9,412.8 L959.2,417.7 L959.6,426.1 L959.9,423.0 L960.3,420.0 L960.6,427.3 L961.0,428.2 L961.3,424.7 L961.7,410.3 L962.0,420.4 L962.4,418.2 L962.7,410.0 L963.0,408.3 L963.4,400.4 L963.7,413.9 L964.1,417.4 L964.4,412.7 L964.8,415.4 L965.1,409.8 L965.5,410.4 L965.8,417.1 L966.2,415.1 L966.5,415.1"/>
<text class="lab" x="33.3" y="100.5" textLength="176.2" lengthAdjust="spacingAndGlyphs">MUGIO HHZ</text>
<text class="lab" x="33.3" y="273.8" textLength="179.0" lengthAdjust="spacingAndGlyphs">MUGIO HHN</text>
<text class="lab" x="33.3" y="447.8" textLength="174.4" lengthAdjust="spacingAndGlyphs">MUGIO HHE</text>
<line x1="33.5" x2="967.3" y1="46.8" y2="46.8" stroke="#000" stroke-width="1.4"/>
<line x1="32.2" x2="968.6" y1="566.5" y2="566.5" stroke="#000" stroke-width="1.5"/>
<g stroke="#000"><line x1="33.50" x2="33.50" y1="566.5" y2="590.6" stroke-width="3.1"/><line x1="44.49" x2="44.49" y1="566.5" y2="578.6" stroke-width="3.1"/><line x1="55.47" x2="55.47" y1="566.5" y2="578.6" stroke-width="3.1"/><line x1="66.46" x2="66.46" y1="566.5" y2="578.6" stroke-width="3.1"/><line x1="77.44" x2="77.44" y1="566.5" y2="578.6" stroke-width="3.1"/><line x1="88.43" x2="88.43" y1="566.5" y2="590.6" stroke-width="3.1"/><line x1="99.42" x2="99.42" y1="566.5" y2="578.6" stroke-width="3.1"/><line x1="110.40" x2="110.40" y1="566.5" y2="578.6" stroke-width="3.1"/><line x1="121.39" x2="121.39" y1="566.5" y2="578.6" stroke-width="3.1"/><line x1="132.37" x2="132.37" y1="566.5" y2="578.6" stroke-width="3.1"/><line x1="143.36" x2="143.36" y1="566.5" y2="590.6" stroke-width="3.1"/><line x1="154.34" x2="154.34" y1="566.5" y2="578.6" stroke-width="3.1"/><line x1="165.33" x2="165.33" y1="566.5" y2="578.6" stroke-width="3.1"/><line x1="176.32" x2="176.32" y1="566.5" y2="578.6" stroke-width="3.1"/><line x1="187.30" x2="187.30" y1="566.5" y2="578.6" stroke-width="3.1"/><line x1="198.29" x2="198.29" y1="566.5" y2="590.6" stroke-width="3.1"/><line x1="209.27" x2="209.27" y1="566.5" y2="578.6" stroke-width="3.1"/><line x1="220.26" x2="220.26" y1="566.5" y2="578.6" stroke-width="3.1"/><line x1="231.25" x2="231.25" y1="566.5" y2="578.6" stroke-width="3.1"/><line x1="242.23" x2="242.23" y1="566.5" y2="578.6" stroke-width="3.1"/><line x1="253.22" x2="253.22" y1="566.5" y2="590.6" stroke-width="3.1"/><line x1="264.20" x2="264.20" y1="566.5" y2="578.6" stroke-width="3.1"/><line x1="275.19" x2="275.19" y1="566.5" y2="578.6" stroke-width="3.1"/><line x1="286.18" x2="286.18" y1="566.5" y2="578.6" stroke-width="3.1"/><line x1="297.16" x2="297.16" y1="566.5" y2="578.6" stroke-width="3.1"/><line x1="308.15" x2="308.15" y1="566.5" y2="590.6" stroke-width="3.1"/><line x1="319.13" x2="319.13" y1="566.5" y2="578.6" stroke-width="3.1"/><line x1="330.12" x2="330.12" y1="566.5" y2="578.6" stroke-width="3.1"/><line x1="341.10" x2="341.10" y1="566.5" y2="578.6" stroke-width="3.1"/><line x1="352.09" x2="352.09" y1="566.5" y2="578.6" stroke-width="3.1"/><line x1="363.08" x2="363.08" y1="566.5" y2="590.6" stroke-width="3.1"/><line x1="374.06" x2="374.06" y1="566.5" y2="578.6" stroke-width="3.1"/><line x1="385.05" x2="385.05" y1="566.5" y2="578.6" stroke-width="3.1"/><line x1="396.03" x2="396.03" y1="566.5" y2="578.6" stroke-width="3.1"/><line x1="407.02" x2="407.02" y1="566.5" y2="578.6" stroke-width="3.1"/><line x1="418.01" x2="418.01" y1="566.5" y2="590.6" stroke-width="3.1"/><line x1="428.99" x2="428.99" y1="566.5" y2="578.6" stroke-width="3.1"/><line x1="439.98" x2="439.98" y1="566.5" y2="578.6" stroke-width="3.1"/><line x1="450.96" x2="450.96" y1="566.5" y2="578.6" stroke-width="3.1"/><line x1="461.95" x2="461.95" y1="566.5" y2="578.6" stroke-width="3.1"/><line x1="472.94" x2="472.94" y1="566.5" y2="590.6" stroke-width="3.1"/><line x1="483.92" x2="483.92" y1="566.5" y2="578.6" stroke-width="3.1"/><line x1="494.91" x2="494.91" y1="566.5" y2="578.6" stroke-width="3.1"/><line x1="505.89" x2="505.89" y1="566.5" y2="578.6" stroke-width="3.1"/><line x1="516.88" x2="516.88" y1="566.5" y2="578.6" stroke-width="3.1"/><line x1="527.86" x2="527.86" y1="566.5" y2="590.6" stroke-width="3.1"/><line x1="538.85" x2="538.85" y1="566.5" y2="578.6" stroke-width="3.1"/><line x1="549.84" x2="549.84" y1="566.5" y2="578.6" stroke-width="3.1"/><line x1="560.82" x2="560.82" y1="566.5" y2="578.6" stroke-width="3.1"/><line x1="571.81" x2="571.81" y1="566.5" y2="578.6" stroke-width="3.1"/><line x1="582.79" x2="582.79" y1="566.5" y2="590.6" stroke-width="3.1"/><line x1="593.78" x2="593.78" y1="566.5" y2="578.6" stroke-width="3.1"/><line x1="604.77" x2="604.77" y1="566.5" y2="578.6" stroke-width="3.1"/><line x1="615.75" x2="615.75" y1="566.5" y2="578.6" stroke-width="3.1"/><line x1="626.74" x2="626.74" y1="566.5" y2="578.6" stroke-width="3.1"/><line x1="637.72" x2="637.72" y1="566.5" y2="590.6" stroke-width="3.1"/><line x1="648.71" x2="648.71" y1="566.5" y2="578.6" stroke-width="3.1"/><line x1="659.70" x2="659.70" y1="566.5" y2="578.6" stroke-width="3.1"/><line x1="670.68" x2="670.68" y1="566.5" y2="578.6" stroke-width="3.1"/><line x1="681.67" x2="681.67" y1="566.5" y2="578.6" stroke-width="3.1"/><line x1="692.65" x2="692.65" y1="566.5" y2="590.6" stroke-width="3.1"/><line x1="703.64" x2="703.64" y1="566.5" y2="578.6" stroke-width="3.1"/><line x1="714.62" x2="714.62" y1="566.5" y2="578.6" stroke-width="3.1"/><line x1="725.61" x2="725.61" y1="566.5" y2="578.6" stroke-width="3.1"/><line x1="736.60" x2="736.60" y1="566.5" y2="578.6" stroke-width="3.1"/><line x1="747.58" x2="747.58" y1="566.5" y2="590.6" stroke-width="3.1"/><line x1="758.57" x2="758.57" y1="566.5" y2="578.6" stroke-width="3.1"/><line x1="769.55" x2="769.55" y1="566.5" y2="578.6" stroke-width="3.1"/><line x1="780.54" x2="780.54" y1="566.5" y2="578.6" stroke-width="3.1"/><line x1="791.53" x2="791.53" y1="566.5" y2="578.6" stroke-width="3.1"/><line x1="802.51" x2="802.51" y1="566.5" y2="590.6" stroke-width="3.1"/><line x1="813.50" x2="813.50" y1="566.5" y2="578.6" stroke-width="3.1"/><line x1="824.48" x2="824.48" y1="566.5" y2="578.6" stroke-width="3.1"/><line x1="835.47" x2="835.47" y1="566.5" y2="578.6" stroke-width="3.1"/><line x1="846.46" x2="846.46" y1="566.5" y2="578.6" stroke-width="3.1"/><line x1="857.44" x2="857.44" y1="566.5" y2="590.6" stroke-width="3.1"/><line x1="868.43" x2="868.43" y1="566.5" y2="578.6" stroke-width="3.1"/><line x1="879.41" x2="879.41" y1="566.5" y2="578.6" stroke-width="3.1"/><line x1="890.40" x2="890.40" y1="566.5" y2="578.6" stroke-width="3.1"/><line x1="901.38" x2="901.38" y1="566.5" y2="578.6" stroke-width="3.1"/><line x1="912.37" x2="912.37" y1="566.5" y2="590.6" stroke-width="3.1"/><line x1="923.36" x2="923.36" y1="566.5" y2="578.6" stroke-width="3.1"/><line x1="934.34" x2="934.34" y1="566.5" y2="578.6" stroke-width="3.1"/><line x1="945.33" x2="945.33" y1="566.5" y2="578.6" stroke-width="3.1"/><line x1="956.31" x2="956.31" y1="566.5" y2="578.6" stroke-width="3.1"/><line x1="967.30" x2="967.30" y1="566.5" y2="590.6" stroke-width="3.1"/></g>
<line x1="327.5" x2="327.5" y1="46.7" y2="566.5" stroke="#0000ff" stroke-width="1.4"/>
<g><text transform="translate(33.90,606.3) scale(0.87,1)" text-anchor="middle" font-size="15.8">0</text><text transform="translate(88.83,606.3) scale(0.87,1)" text-anchor="middle" font-size="15.8">1</text><text transform="translate(143.76,606.3) scale(0.87,1)" text-anchor="middle" font-size="15.8">2</text><text transform="translate(198.69,606.3) scale(0.87,1)" text-anchor="middle" font-size="15.8">3</text><text transform="translate(253.62,606.3) scale(0.87,1)" text-anchor="middle" font-size="15.8">4</text><text transform="translate(308.55,606.3) scale(0.87,1)" text-anchor="middle" font-size="15.8">5</text><text transform="translate(363.48,606.3) scale(0.87,1)" text-anchor="middle" font-size="15.8">6</text><text transform="translate(418.41,606.3) scale(0.87,1)" text-anchor="middle" font-size="15.8">7</text><text transform="translate(473.34,606.3) scale(0.87,1)" text-anchor="middle" font-size="15.8">8</text><text transform="translate(528.26,606.3) scale(0.87,1)" text-anchor="middle" font-size="15.8">9</text><text transform="translate(583.19,606.3) scale(0.87,1)" text-anchor="middle" font-size="15.8">10</text><text transform="translate(638.12,606.3) scale(0.87,1)" text-anchor="middle" font-size="15.8">11</text><text transform="translate(693.05,606.3) scale(0.87,1)" text-anchor="middle" font-size="15.8">12</text><text transform="translate(747.98,606.3) scale(0.87,1)" text-anchor="middle" font-size="15.8">13</text><text transform="translate(802.91,606.3) scale(0.87,1)" text-anchor="middle" font-size="15.8">14</text><text transform="translate(857.84,606.3) scale(0.87,1)" text-anchor="middle" font-size="15.8">15</text><text transform="translate(912.77,606.3) scale(0.87,1)" text-anchor="middle" font-size="15.8">16</text><text transform="translate(967.70,606.3) scale(0.87,1)" text-anchor="middle" font-size="15.8">17</text></g>
<text x="466" y="623" font-size="18.1" textLength="68" lengthAdjust="spacingAndGlyphs">Time [s]</text>
</svg>
</body></html>
